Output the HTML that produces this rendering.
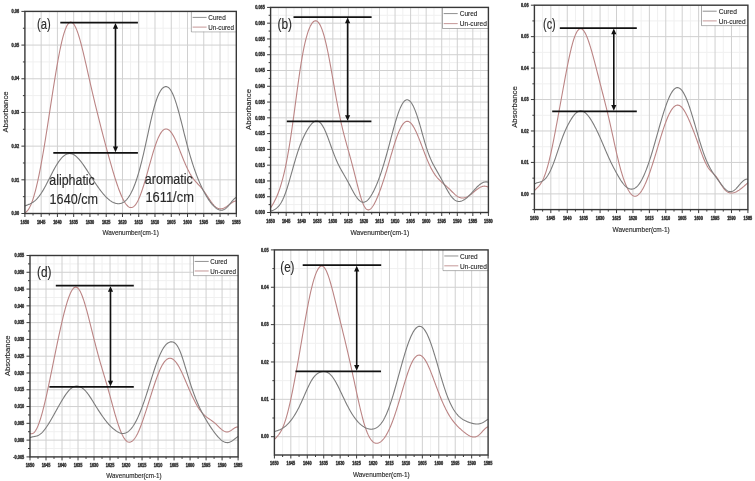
<!DOCTYPE html>
<html><head><meta charset="utf-8"><style>
html,body{margin:0;padding:0;background:#fff;}
svg{display:block;filter:blur(0.35px);}
text{font-family:"Liberation Sans",sans-serif;}
.tl{font-size:5px;font-weight:bold;fill:#222222;stroke:#333;stroke-width:0.4px;}
.lg{font-size:7.3px;fill:#222;stroke:#333;stroke-width:0.12px;}
.at{font-size:7.4px;fill:#222;stroke:#333;stroke-width:0.15px;}
.pl{font-size:15px;fill:#2a2a2a;stroke:#2a2a2a;stroke-width:0.15px;}
.an{font-size:14px;fill:#2a2a2a;stroke:#2a2a2a;stroke-width:0.15px;}
</style></head><body>
<svg width="755" height="481" viewBox="0 0 755 481">
<rect width="755" height="481" fill="#fff"/>
<path d="M33.03 11.4V213.5M49.29 11.4V213.5M65.55 11.4V213.5M81.82 11.4V213.5M98.08 11.4V213.5M114.34 11.4V213.5M130.6 11.4V213.5M146.86 11.4V213.5M163.12 11.4V213.5M179.38 11.4V213.5M195.65 11.4V213.5M211.91 11.4V213.5M228.17 11.4V213.5M24.9 196.66H236.3M24.9 162.97H236.3M24.9 129.29H236.3M24.9 95.61H236.3M24.9 61.93H236.3M24.9 28.24H236.3" stroke="#f0f0f0" stroke-width="1" fill="none"/>
<path d="M41.16 11.4V213.5M57.42 11.4V213.5M73.68 11.4V213.5M89.95 11.4V213.5M106.21 11.4V213.5M122.47 11.4V213.5M138.73 11.4V213.5M154.99 11.4V213.5M171.25 11.4V213.5M187.52 11.4V213.5M203.78 11.4V213.5M220.04 11.4V213.5M24.9 179.82H236.3M24.9 146.13H236.3M24.9 112.45H236.3M24.9 78.77H236.3M24.9 45.08H236.3" stroke="#d0d0d0" stroke-width="1" fill="none"/>
<path d="M24.9 213.5v3.5M33.03 213.5v2M41.16 213.5v3.5M49.29 213.5v2M57.42 213.5v3.5M65.55 213.5v2M73.68 213.5v3.5M81.82 213.5v2M89.95 213.5v3.5M98.08 213.5v2M106.21 213.5v3.5M114.34 213.5v2M122.47 213.5v3.5M130.6 213.5v2M138.73 213.5v3.5M146.86 213.5v2M154.99 213.5v3.5M163.12 213.5v2M171.25 213.5v3.5M179.38 213.5v2M187.52 213.5v3.5M195.65 213.5v2M203.78 213.5v3.5M211.91 213.5v2M220.04 213.5v3.5M228.17 213.5v2M236.3 213.5v3.5M24.9 213.5h-3.5M24.9 196.66h-2M24.9 179.82h-3.5M24.9 162.97h-2M24.9 146.13h-3.5M24.9 129.29h-2M24.9 112.45h-3.5M24.9 95.61h-2M24.9 78.77h-3.5M24.9 61.93h-2M24.9 45.08h-3.5M24.9 28.24h-2M24.9 11.4h-3.5" stroke="#3a3a3a" stroke-width="1" fill="none"/>
<text x="24.9" y="223.8" textLength="8.56" lengthAdjust="spacingAndGlyphs" class="tl" text-anchor="middle">1650</text>
<text x="41.16" y="223.8" textLength="8.56" lengthAdjust="spacingAndGlyphs" class="tl" text-anchor="middle">1645</text>
<text x="57.42" y="223.8" textLength="8.56" lengthAdjust="spacingAndGlyphs" class="tl" text-anchor="middle">1640</text>
<text x="73.68" y="223.8" textLength="8.56" lengthAdjust="spacingAndGlyphs" class="tl" text-anchor="middle">1635</text>
<text x="89.95" y="223.8" textLength="8.56" lengthAdjust="spacingAndGlyphs" class="tl" text-anchor="middle">1630</text>
<text x="106.21" y="223.8" textLength="8.56" lengthAdjust="spacingAndGlyphs" class="tl" text-anchor="middle">1625</text>
<text x="122.47" y="223.8" textLength="8.56" lengthAdjust="spacingAndGlyphs" class="tl" text-anchor="middle">1620</text>
<text x="138.73" y="223.8" textLength="8.56" lengthAdjust="spacingAndGlyphs" class="tl" text-anchor="middle">1615</text>
<text x="154.99" y="223.8" textLength="8.56" lengthAdjust="spacingAndGlyphs" class="tl" text-anchor="middle">1610</text>
<text x="171.25" y="223.8" textLength="8.56" lengthAdjust="spacingAndGlyphs" class="tl" text-anchor="middle">1605</text>
<text x="187.52" y="223.8" textLength="8.56" lengthAdjust="spacingAndGlyphs" class="tl" text-anchor="middle">1600</text>
<text x="203.78" y="223.8" textLength="8.56" lengthAdjust="spacingAndGlyphs" class="tl" text-anchor="middle">1595</text>
<text x="220.04" y="223.8" textLength="8.56" lengthAdjust="spacingAndGlyphs" class="tl" text-anchor="middle">1590</text>
<text x="236.3" y="223.8" textLength="8.56" lengthAdjust="spacingAndGlyphs" class="tl" text-anchor="middle">1585</text>
<text x="19.2" y="215.2" textLength="7.59" lengthAdjust="spacingAndGlyphs" class="tl" text-anchor="end">0.00</text>
<text x="19.2" y="181.52" textLength="7.59" lengthAdjust="spacingAndGlyphs" class="tl" text-anchor="end">0.01</text>
<text x="19.2" y="147.83" textLength="7.59" lengthAdjust="spacingAndGlyphs" class="tl" text-anchor="end">0.02</text>
<text x="19.2" y="114.15" textLength="7.59" lengthAdjust="spacingAndGlyphs" class="tl" text-anchor="end">0.03</text>
<text x="19.2" y="80.47" textLength="7.59" lengthAdjust="spacingAndGlyphs" class="tl" text-anchor="end">0.04</text>
<text x="19.2" y="46.78" textLength="7.59" lengthAdjust="spacingAndGlyphs" class="tl" text-anchor="end">0.05</text>
<text x="19.2" y="13.1" textLength="7.59" lengthAdjust="spacingAndGlyphs" class="tl" text-anchor="end">0.06</text>
<path d="M24.9 212.7 25.4 212.43 25.9 212.1 26.4 211.71 26.9 211.26 27.4 210.73 27.9 210.12 28.4 209.43 28.9 208.65 29.4 207.79 29.9 206.85 30.4 205.82 30.9 204.7 31.4 203.49 31.9 202.2 32.4 200.82 32.9 199.36 33.4 197.81 33.9 196.18 34.4 194.47 34.9 192.68 35.4 190.8 35.9 188.85 36.4 186.82 36.9 184.72 37.4 182.54 37.9 180.29 38.4 177.98 38.9 175.59 39.4 173.14 39.9 170.62 40.4 168.04 40.9 165.4 41.4 162.7 41.9 159.94 42.4 157.14 42.9 154.28 43.4 151.37 43.9 148.41 44.4 145.41 44.9 142.37 45.4 139.29 45.9 136.17 46.4 133.02 46.9 129.85 47.4 126.64 47.9 123.42 48.4 120.18 48.9 116.93 49.4 113.67 49.9 110.41 50.4 107.14 50.9 103.88 51.4 100.63 51.9 97.39 52.4 94.16 52.9 90.95 53.4 87.76 53.9 84.6 54.4 81.47 54.9 78.38 55.4 75.32 55.9 72.3 56.4 69.33 56.9 66.42 57.4 63.55 57.9 60.75 58.4 58.02 58.9 55.36 59.4 52.77 59.9 50.26 60.4 47.84 60.9 45.52 61.4 43.28 61.9 41.15 62.4 39.11 62.9 37.18 63.4 35.36 63.9 33.65 64.4 32.05 64.9 30.57 65.4 29.2 65.9 27.95 66.4 26.82 66.9 25.81 67.4 24.93 67.9 24.16 68.4 23.51 68.9 22.99 69.4 22.59 69.9 22.3 70.4 22.14 70.9 22.1 71.4 22.18 71.9 22.37 72.4 22.69 72.9 23.11 73.4 23.65 73.9 24.3 74.4 25.06 74.9 25.93 75.4 26.89 75.9 27.96 76.4 29.12 76.9 30.38 77.4 31.72 77.9 33.15 78.4 34.65 78.9 36.24 79.4 37.89 79.9 39.62 80.4 41.4 80.9 43.25 81.4 45.15 81.9 47.1 82.4 49.09 82.9 51.13 83.4 53.2 83.9 55.3 84.4 57.44 84.9 59.59 85.4 61.77 85.9 63.96 86.4 66.17 86.9 68.38 87.4 70.6 87.9 72.82 88.4 75.04 88.9 77.25 89.4 79.46 89.9 81.66 90.4 83.85 90.9 86.03 91.4 88.2 91.9 90.35 92.4 92.5 92.9 94.62 93.4 96.74 93.9 98.84 94.4 100.93 94.9 103.01 95.4 105.07 95.9 107.12 96.4 109.17 96.9 111.2 97.4 113.22 97.9 115.23 98.4 117.24 98.9 119.23 99.4 121.22 99.9 123.19 100.4 125.16 100.9 127.12 101.4 129.07 101.9 131.01 102.4 132.94 102.9 134.86 103.4 136.77 103.9 138.67 104.4 140.56 104.9 142.44 105.4 144.31 105.9 146.17 106.4 148.02 106.9 149.86 107.4 151.69 107.9 153.51 108.4 155.33 108.9 157.13 109.4 158.92 109.9 160.7 110.4 162.46 110.9 164.22 111.4 165.96 111.9 167.68 112.4 169.39 112.9 171.08 113.4 172.75 113.9 174.39 114.4 176.02 114.9 177.63 115.4 179.21 115.9 180.76 116.4 182.28 116.9 183.78 117.4 185.24 117.9 186.68 118.4 188.08 118.9 189.44 119.4 190.77 119.9 192.06 120.4 193.31 120.9 194.52 121.4 195.69 121.9 196.81 122.4 197.89 122.9 198.92 123.4 199.9 123.9 200.83 124.4 201.71 124.9 202.53 125.4 203.3 125.9 204.01 126.4 204.66 126.9 205.24 127.4 205.77 127.9 206.23 128.4 206.62 128.9 206.95 129.4 207.21 129.9 207.4 130.4 207.52 130.9 207.57 131.4 207.55 131.9 207.46 132.4 207.3 132.9 207.06 133.4 206.75 133.9 206.37 134.4 205.92 134.9 205.39 135.4 204.79 135.9 204.11 136.4 203.37 136.9 202.55 137.4 201.67 137.9 200.71 138.4 199.69 138.9 198.6 139.4 197.44 139.9 196.23 140.4 194.96 140.9 193.62 141.4 192.24 141.9 190.8 142.4 189.32 142.9 187.79 143.4 186.22 143.9 184.62 144.4 182.97 144.9 181.3 145.4 179.6 145.9 177.87 146.4 176.13 146.9 174.37 147.4 172.59 147.9 170.8 148.4 169.01 148.9 167.21 149.4 165.42 149.9 163.63 150.4 161.84 150.9 160.07 151.4 158.32 151.9 156.58 152.4 154.86 152.9 153.18 153.4 151.52 153.9 149.9 154.4 148.32 154.9 146.78 155.4 145.29 155.9 143.85 156.4 142.47 156.9 141.14 157.4 139.87 157.9 138.66 158.4 137.52 158.9 136.44 159.4 135.44 159.9 134.5 160.4 133.64 160.9 132.85 161.4 132.13 161.9 131.49 162.4 130.92 162.9 130.42 163.4 129.99 163.9 129.64 164.4 129.36 164.9 129.16 165.4 129.02 165.9 128.96 166.4 128.96 166.9 129.04 167.4 129.18 167.9 129.4 168.4 129.68 168.9 130.02 169.4 130.43 169.9 130.9 170.4 131.44 170.9 132.04 171.4 132.69 171.9 133.41 172.4 134.18 172.9 135.01 173.4 135.88 173.9 136.81 174.4 137.79 174.9 138.8 175.4 139.86 175.9 140.96 176.4 142.09 176.9 143.25 177.4 144.44 177.9 145.65 178.4 146.88 178.9 148.13 179.4 149.39 179.9 150.66 180.4 151.93 180.9 153.21 181.4 154.48 181.9 155.75 182.4 157.01 182.9 158.25 183.4 159.49 183.9 160.7 184.4 161.9 184.9 163.08 185.4 164.23 185.9 165.36 186.4 166.47 186.9 167.55 187.4 168.6 187.9 169.62 188.4 170.62 188.9 171.58 189.4 172.51 189.9 173.42 190.4 174.28 190.9 175.12 191.4 175.93 191.9 176.7 192.4 177.44 192.9 178.15 193.4 178.84 193.9 179.49 194.4 180.12 194.9 180.73 195.4 181.31 195.9 181.88 196.4 182.43 196.9 182.97 197.4 183.5 197.9 184.02 198.4 184.55 198.9 185.08 199.4 185.61 199.9 186.15 200.4 186.71 200.9 187.28 201.4 187.87 201.9 188.47 202.4 189.1 202.9 189.74 203.4 190.41 203.9 191.09 204.4 191.8 204.9 192.52 205.4 193.26 205.9 194.01 206.4 194.77 206.9 195.53 207.4 196.3 207.9 197.08 208.4 197.85 208.9 198.61 209.4 199.37 209.9 200.11 210.4 200.84 210.9 201.55 211.4 202.24 211.9 202.9 212.4 203.54 212.9 204.15 213.4 204.73 213.9 205.27 214.4 205.78 214.9 206.25 215.4 206.68 215.9 207.08 216.4 207.43 216.9 207.75 217.4 208.03 217.9 208.26 218.4 208.46 218.9 208.62 219.4 208.73 219.9 208.81 220.4 208.85 220.9 208.85 221.4 208.81 221.9 208.73 222.4 208.62 222.9 208.48 223.4 208.3 223.9 208.09 224.4 207.86 224.9 207.6 225.4 207.31 225.9 207.01 226.4 206.68 226.9 206.34 227.4 205.98 227.9 205.62 228.4 205.25 228.9 204.87 229.4 204.49 229.9 204.11 230.4 203.74 230.9 203.38 231.4 203.03 231.9 202.69 232.4 202.37 232.9 202.07 233.4 201.8 233.9 201.55 234.4 201.33 234.9 201.15 235.4 201 235.9 200.88 236.3 200.82" stroke="#bb8484" stroke-width="1.1" fill="none"/>
<path d="M24.9 206.02 25.4 205.8 25.9 205.59 26.4 205.38 26.9 205.18 27.4 204.98 27.9 204.78 28.4 204.58 28.9 204.37 29.4 204.15 29.9 203.93 30.4 203.69 30.9 203.44 31.4 203.18 31.9 202.89 32.4 202.59 32.9 202.27 33.4 201.93 33.9 201.56 34.4 201.18 34.9 200.76 35.4 200.32 35.9 199.86 36.4 199.36 36.9 198.84 37.4 198.3 37.9 197.73 38.4 197.13 38.9 196.5 39.4 195.85 39.9 195.17 40.4 194.47 40.9 193.74 41.4 192.99 41.9 192.21 42.4 191.41 42.9 190.59 43.4 189.74 43.9 188.88 44.4 187.99 44.9 187.09 45.4 186.17 45.9 185.23 46.4 184.28 46.9 183.32 47.4 182.34 47.9 181.36 48.4 180.37 48.9 179.38 49.4 178.38 49.9 177.38 50.4 176.39 50.9 175.39 51.4 174.41 51.9 173.43 52.4 172.46 52.9 171.5 53.4 170.55 53.9 169.62 54.4 168.71 54.9 167.81 55.4 166.94 55.9 166.08 56.4 165.24 56.9 164.43 57.4 163.64 57.9 162.87 58.4 162.13 58.9 161.41 59.4 160.72 59.9 160.06 60.4 159.43 60.9 158.82 61.4 158.25 61.9 157.7 62.4 157.19 62.9 156.71 63.4 156.26 63.9 155.84 64.4 155.46 64.9 155.11 65.4 154.8 65.9 154.52 66.4 154.27 66.9 154.06 67.4 153.89 67.9 153.75 68.4 153.65 68.9 153.58 69.4 153.54 69.9 153.54 70.4 153.58 70.9 153.65 71.4 153.76 71.9 153.9 72.4 154.07 72.9 154.28 73.4 154.51 73.9 154.79 74.4 155.09 74.9 155.42 75.4 155.79 75.9 156.18 76.4 156.6 76.9 157.05 77.4 157.53 77.9 158.03 78.4 158.56 78.9 159.11 79.4 159.68 79.9 160.28 80.4 160.89 80.9 161.53 81.4 162.18 81.9 162.84 82.4 163.52 82.9 164.22 83.4 164.93 83.9 165.65 84.4 166.38 84.9 167.11 85.4 167.86 85.9 168.61 86.4 169.37 86.9 170.14 87.4 170.91 87.9 171.68 88.4 172.46 88.9 173.23 89.4 174.01 89.9 174.79 90.4 175.57 90.9 176.35 91.4 177.12 91.9 177.9 92.4 178.67 92.9 179.45 93.4 180.21 93.9 180.98 94.4 181.74 94.9 182.5 95.4 183.25 95.9 183.99 96.4 184.73 96.9 185.46 97.4 186.18 97.9 186.9 98.4 187.6 98.9 188.3 99.4 188.99 99.9 189.66 100.4 190.33 100.9 190.98 101.4 191.62 101.9 192.25 102.4 192.87 102.9 193.48 103.4 194.07 103.9 194.64 104.4 195.21 104.9 195.75 105.4 196.28 105.9 196.8 106.4 197.3 106.9 197.78 107.4 198.25 107.9 198.7 108.4 199.13 108.9 199.55 109.4 199.95 109.9 200.33 110.4 200.69 110.9 201.03 111.4 201.35 111.9 201.66 112.4 201.95 112.9 202.21 113.4 202.46 113.9 202.68 114.4 202.89 114.9 203.07 115.4 203.23 115.9 203.37 116.4 203.48 116.9 203.57 117.4 203.64 117.9 203.68 118.4 203.7 118.9 203.69 119.4 203.65 119.9 203.58 120.4 203.49 120.9 203.37 121.4 203.22 121.9 203.03 122.4 202.81 122.9 202.56 123.4 202.28 123.9 201.96 124.4 201.61 124.9 201.22 125.4 200.79 125.9 200.32 126.4 199.81 126.9 199.27 127.4 198.68 127.9 198.04 128.4 197.37 128.9 196.65 129.4 195.88 129.9 195.07 130.4 194.21 130.9 193.3 131.4 192.35 131.9 191.34 132.4 190.28 132.9 189.18 133.4 188.02 133.9 186.81 134.4 185.55 134.9 184.23 135.4 182.87 135.9 181.45 136.4 179.98 136.9 178.46 137.4 176.88 137.9 175.26 138.4 173.58 138.9 171.86 139.4 170.08 139.9 168.26 140.4 166.39 140.9 164.48 141.4 162.52 141.9 160.52 142.4 158.48 142.9 156.4 143.4 154.28 143.9 152.13 144.4 149.95 144.9 147.74 145.4 145.5 145.9 143.24 146.4 140.96 146.9 138.67 147.4 136.36 147.9 134.06 148.4 131.75 148.9 129.46 149.4 127.17 149.9 124.91 150.4 122.67 150.9 120.46 151.4 118.3 151.9 116.18 152.4 114.11 152.9 112.1 153.4 110.16 153.9 108.28 154.4 106.48 154.9 104.75 155.4 103.1 155.9 101.53 156.4 100.04 156.9 98.63 157.4 97.31 157.9 96.07 158.4 94.91 158.9 93.84 159.4 92.84 159.9 91.92 160.4 91.07 160.9 90.3 161.4 89.61 161.9 88.98 162.4 88.43 162.9 87.95 163.4 87.54 163.9 87.2 164.4 86.94 164.9 86.74 165.4 86.62 165.9 86.57 166.4 86.6 166.9 86.7 167.4 86.88 167.9 87.14 168.4 87.48 168.9 87.9 169.4 88.41 169.9 88.99 170.4 89.66 170.9 90.42 171.4 91.25 171.9 92.17 172.4 93.18 172.9 94.26 173.4 95.42 173.9 96.66 174.4 97.97 174.9 99.35 175.4 100.81 175.9 102.33 176.4 103.91 176.9 105.54 177.4 107.24 177.9 108.98 178.4 110.77 178.9 112.6 179.4 114.47 179.9 116.37 180.4 118.3 180.9 120.26 181.4 122.23 181.9 124.23 182.4 126.23 182.9 128.24 183.4 130.25 183.9 132.26 184.4 134.26 184.9 136.25 185.4 138.23 185.9 140.18 186.4 142.12 186.9 144.03 187.4 145.91 187.9 147.77 188.4 149.59 188.9 151.39 189.4 153.15 189.9 154.88 190.4 156.58 190.9 158.25 191.4 159.89 191.9 161.49 192.4 163.07 192.9 164.61 193.4 166.12 193.9 167.6 194.4 169.06 194.9 170.48 195.4 171.88 195.9 173.25 196.4 174.6 196.9 175.91 197.4 177.2 197.9 178.46 198.4 179.7 198.9 180.91 199.4 182.1 199.9 183.26 200.4 184.39 200.9 185.5 201.4 186.58 201.9 187.64 202.4 188.68 202.9 189.69 203.4 190.68 203.9 191.65 204.4 192.59 204.9 193.51 205.4 194.41 205.9 195.29 206.4 196.14 206.9 196.98 207.4 197.79 207.9 198.58 208.4 199.34 208.9 200.09 209.4 200.81 209.9 201.5 210.4 202.18 210.9 202.83 211.4 203.46 211.9 204.06 212.4 204.64 212.9 205.19 213.4 205.72 213.9 206.23 214.4 206.7 214.9 207.16 215.4 207.58 215.9 207.98 216.4 208.35 216.9 208.69 217.4 209 217.9 209.28 218.4 209.52 218.9 209.74 219.4 209.91 219.9 210.05 220.4 210.15 220.9 210.21 221.4 210.22 221.9 210.19 222.4 210.12 222.9 210 223.4 209.84 223.9 209.63 224.4 209.38 224.9 209.08 225.4 208.73 225.9 208.34 226.4 207.91 226.9 207.45 227.4 206.94 227.9 206.4 228.4 205.83 228.9 205.24 229.4 204.63 229.9 204 230.4 203.36 230.9 202.73 231.4 202.09 231.9 201.46 232.4 200.85 232.9 200.26 233.4 199.71 233.9 199.19 234.4 198.71 234.9 198.28 235.4 197.91 235.9 197.6 236.3 197.4" stroke="#7c7c7c" stroke-width="1.1" fill="none"/>
<path d="M191.4 11.4V31.8H236.3" stroke="#8a8a8a" stroke-width="0.8" fill="none"/>
<rect x="191.8" y="11.9" width="44" height="19.5" fill="#fff"/>
<path d="M192.6 17.4h14" stroke="#7c7c7c" stroke-width="0.85" />
<path d="M192.6 27.1h14" stroke="#bb8484" stroke-width="0.85" />
<text x="208.3" y="20.1" class="lg" textLength="17.4" lengthAdjust="spacingAndGlyphs">Cured</text>
<text x="208.3" y="29.8" class="lg" textLength="25.7" lengthAdjust="spacingAndGlyphs">Un-cured</text>
<rect x="24.9" y="11.4" width="211.4" height="202.1" fill="none" stroke="#383838" stroke-width="1.4"/>
<text transform="translate(5.8 112) rotate(-90)" x="0" y="2.6" text-anchor="middle" class="at" textLength="41" lengthAdjust="spacingAndGlyphs">Absorbance</text>
<text x="130.6" y="235.4" text-anchor="middle" class="at" textLength="56.4" lengthAdjust="spacingAndGlyphs">Wavenumber(cm-1)</text>
<path d="M60.3 22.5H137.9M53.3 152.8H137.9" stroke="#111" stroke-width="1.75"/>
<path d="M115.5 27.5V147.8" stroke="#111" stroke-width="1.6"/>
<path d="M115.5 23.1l-2.6 5.6h5.2z M115.5 152.2l-2.6 -5.6h5.2z" fill="#111"/>
<text x="37" y="28.5" class="pl" textLength="13.75" lengthAdjust="spacingAndGlyphs">(a)</text>
<path d="M278.38 7.4V212.5M293.94 7.4V212.5M309.49 7.4V212.5M325.05 7.4V212.5M340.61 7.4V212.5M356.16 7.4V212.5M371.72 7.4V212.5M387.28 7.4V212.5M402.84 7.4V212.5M418.39 7.4V212.5M433.95 7.4V212.5M449.51 7.4V212.5M465.06 7.4V212.5M480.62 7.4V212.5M270.6 204.61H488.4M270.6 188.83H488.4M270.6 173.06H488.4M270.6 157.28H488.4M270.6 141.5H488.4M270.6 125.73H488.4M270.6 109.95H488.4M270.6 94.17H488.4M270.6 78.4H488.4M270.6 62.62H488.4M270.6 46.84H488.4M270.6 31.07H488.4M270.6 15.29H488.4" stroke="#f0f0f0" stroke-width="1" fill="none"/>
<path d="M286.16 7.4V212.5M301.71 7.4V212.5M317.27 7.4V212.5M332.83 7.4V212.5M348.39 7.4V212.5M363.94 7.4V212.5M379.5 7.4V212.5M395.06 7.4V212.5M410.61 7.4V212.5M426.17 7.4V212.5M441.73 7.4V212.5M457.29 7.4V212.5M472.84 7.4V212.5M270.6 196.72H488.4M270.6 180.95H488.4M270.6 165.17H488.4M270.6 149.39H488.4M270.6 133.62H488.4M270.6 117.84H488.4M270.6 102.06H488.4M270.6 86.28H488.4M270.6 70.51H488.4M270.6 54.73H488.4M270.6 38.95H488.4M270.6 23.18H488.4" stroke="#d0d0d0" stroke-width="1" fill="none"/>
<path d="M270.6 212.5v3.5M278.38 212.5v2M286.16 212.5v3.5M293.94 212.5v2M301.71 212.5v3.5M309.49 212.5v2M317.27 212.5v3.5M325.05 212.5v2M332.83 212.5v3.5M340.61 212.5v2M348.39 212.5v3.5M356.16 212.5v2M363.94 212.5v3.5M371.72 212.5v2M379.5 212.5v3.5M387.28 212.5v2M395.06 212.5v3.5M402.84 212.5v2M410.61 212.5v3.5M418.39 212.5v2M426.17 212.5v3.5M433.95 212.5v2M441.73 212.5v3.5M449.51 212.5v2M457.29 212.5v3.5M465.06 212.5v2M472.84 212.5v3.5M480.62 212.5v2M488.4 212.5v3.5M270.6 212.5h-3.5M270.6 204.61h-2M270.6 196.72h-3.5M270.6 188.83h-2M270.6 180.95h-3.5M270.6 173.06h-2M270.6 165.17h-3.5M270.6 157.28h-2M270.6 149.39h-3.5M270.6 141.5h-2M270.6 133.62h-3.5M270.6 125.73h-2M270.6 117.84h-3.5M270.6 109.95h-2M270.6 102.06h-3.5M270.6 94.17h-2M270.6 86.28h-3.5M270.6 78.4h-2M270.6 70.51h-3.5M270.6 62.62h-2M270.6 54.73h-3.5M270.6 46.84h-2M270.6 38.95h-3.5M270.6 31.07h-2M270.6 23.18h-3.5M270.6 15.29h-2M270.6 7.4h-3.5" stroke="#3a3a3a" stroke-width="1" fill="none"/>
<text x="270.6" y="222.8" textLength="8.56" lengthAdjust="spacingAndGlyphs" class="tl" text-anchor="middle">1650</text>
<text x="286.16" y="222.8" textLength="8.56" lengthAdjust="spacingAndGlyphs" class="tl" text-anchor="middle">1645</text>
<text x="301.71" y="222.8" textLength="8.56" lengthAdjust="spacingAndGlyphs" class="tl" text-anchor="middle">1640</text>
<text x="317.27" y="222.8" textLength="8.56" lengthAdjust="spacingAndGlyphs" class="tl" text-anchor="middle">1635</text>
<text x="332.83" y="222.8" textLength="8.56" lengthAdjust="spacingAndGlyphs" class="tl" text-anchor="middle">1630</text>
<text x="348.39" y="222.8" textLength="8.56" lengthAdjust="spacingAndGlyphs" class="tl" text-anchor="middle">1625</text>
<text x="363.94" y="222.8" textLength="8.56" lengthAdjust="spacingAndGlyphs" class="tl" text-anchor="middle">1620</text>
<text x="379.5" y="222.8" textLength="8.56" lengthAdjust="spacingAndGlyphs" class="tl" text-anchor="middle">1615</text>
<text x="395.06" y="222.8" textLength="8.56" lengthAdjust="spacingAndGlyphs" class="tl" text-anchor="middle">1610</text>
<text x="410.61" y="222.8" textLength="8.56" lengthAdjust="spacingAndGlyphs" class="tl" text-anchor="middle">1605</text>
<text x="426.17" y="222.8" textLength="8.56" lengthAdjust="spacingAndGlyphs" class="tl" text-anchor="middle">1600</text>
<text x="441.73" y="222.8" textLength="8.56" lengthAdjust="spacingAndGlyphs" class="tl" text-anchor="middle">1595</text>
<text x="457.29" y="222.8" textLength="8.56" lengthAdjust="spacingAndGlyphs" class="tl" text-anchor="middle">1590</text>
<text x="472.84" y="222.8" textLength="8.56" lengthAdjust="spacingAndGlyphs" class="tl" text-anchor="middle">1585</text>
<text x="488.4" y="222.8" textLength="8.56" lengthAdjust="spacingAndGlyphs" class="tl" text-anchor="middle">1580</text>
<text x="264.9" y="214.2" textLength="9.76" lengthAdjust="spacingAndGlyphs" class="tl" text-anchor="end">0.000</text>
<text x="264.9" y="198.42" textLength="9.76" lengthAdjust="spacingAndGlyphs" class="tl" text-anchor="end">0.005</text>
<text x="264.9" y="182.65" textLength="9.76" lengthAdjust="spacingAndGlyphs" class="tl" text-anchor="end">0.010</text>
<text x="264.9" y="166.87" textLength="9.76" lengthAdjust="spacingAndGlyphs" class="tl" text-anchor="end">0.015</text>
<text x="264.9" y="151.09" textLength="9.76" lengthAdjust="spacingAndGlyphs" class="tl" text-anchor="end">0.020</text>
<text x="264.9" y="135.32" textLength="9.76" lengthAdjust="spacingAndGlyphs" class="tl" text-anchor="end">0.025</text>
<text x="264.9" y="119.54" textLength="9.76" lengthAdjust="spacingAndGlyphs" class="tl" text-anchor="end">0.030</text>
<text x="264.9" y="103.76" textLength="9.76" lengthAdjust="spacingAndGlyphs" class="tl" text-anchor="end">0.035</text>
<text x="264.9" y="87.98" textLength="9.76" lengthAdjust="spacingAndGlyphs" class="tl" text-anchor="end">0.040</text>
<text x="264.9" y="72.21" textLength="9.76" lengthAdjust="spacingAndGlyphs" class="tl" text-anchor="end">0.045</text>
<text x="264.9" y="56.43" textLength="9.76" lengthAdjust="spacingAndGlyphs" class="tl" text-anchor="end">0.050</text>
<text x="264.9" y="40.65" textLength="9.76" lengthAdjust="spacingAndGlyphs" class="tl" text-anchor="end">0.055</text>
<text x="264.9" y="24.88" textLength="9.76" lengthAdjust="spacingAndGlyphs" class="tl" text-anchor="end">0.060</text>
<text x="264.9" y="9.1" textLength="9.76" lengthAdjust="spacingAndGlyphs" class="tl" text-anchor="end">0.065</text>
<path d="M270.6 207.81 271.1 207.07 271.6 206.3 272.1 205.5 272.6 204.67 273.1 203.82 273.6 202.93 274.1 202.01 274.6 201.05 275.1 200.06 275.6 199.03 276.1 197.95 276.6 196.83 277.1 195.67 277.6 194.46 278.1 193.2 278.6 191.88 279.1 190.51 279.6 189.08 280.1 187.59 280.6 186.03 281.1 184.4 281.6 182.71 282.1 180.93 282.6 179.09 283.1 177.16 283.6 175.16 284.1 173.07 284.6 170.89 285.1 168.64 285.6 166.29 286.1 163.85 286.6 161.33 287.1 158.71 287.6 156 288.1 153.2 288.6 150.31 289.1 147.34 289.6 144.27 290.1 141.12 290.6 137.89 291.1 134.57 291.6 131.18 292.1 127.73 292.6 124.2 293.1 120.62 293.6 116.99 294.1 113.32 294.6 109.61 295.1 105.88 295.6 102.13 296.1 98.39 296.6 94.65 297.1 90.94 297.6 87.25 298.1 83.62 298.6 80.04 299.1 76.53 299.6 73.1 300.1 69.75 300.6 66.51 301.1 63.37 301.6 60.34 302.1 57.42 302.6 54.63 303.1 51.95 303.6 49.4 304.1 46.96 304.6 44.65 305.1 42.45 305.6 40.38 306.1 38.41 306.6 36.56 307.1 34.83 307.6 33.2 308.1 31.68 308.6 30.26 309.1 28.95 309.6 27.74 310.1 26.63 310.6 25.62 311.1 24.7 311.6 23.88 312.1 23.16 312.6 22.53 313.1 22 313.6 21.56 314.1 21.22 314.6 20.98 315.1 20.84 315.6 20.79 316.1 20.85 316.6 21 317.1 21.26 317.6 21.62 318.1 22.09 318.6 22.66 319.1 23.34 319.6 24.12 320.1 25.01 320.6 26.01 321.1 27.12 321.6 28.33 322.1 29.65 322.6 31.07 323.1 32.6 323.6 34.24 324.1 35.97 324.6 37.81 325.1 39.74 325.6 41.77 326.1 43.88 326.6 46.09 327.1 48.37 327.6 50.74 328.1 53.18 328.6 55.69 329.1 58.26 329.6 60.89 330.1 63.58 330.6 66.32 331.1 69.09 331.6 71.9 332.1 74.74 332.6 77.59 333.1 80.46 333.6 83.33 334.1 86.2 334.6 89.06 335.1 91.9 335.6 94.72 336.1 97.5 336.6 100.25 337.1 102.96 337.6 105.61 338.1 108.22 338.6 110.77 339.1 113.27 339.6 115.7 340.1 118.08 340.6 120.39 341.1 122.64 341.6 124.84 342.1 126.97 342.6 129.06 343.1 131.09 343.6 133.08 344.1 135.02 344.6 136.93 345.1 138.8 345.6 140.65 346.1 142.48 346.6 144.29 347.1 146.08 347.6 147.87 348.1 149.65 348.6 151.43 349.1 153.21 349.6 155 350.1 156.81 350.6 158.62 351.1 160.46 351.6 162.31 352.1 164.19 352.6 166.08 353.1 168 353.6 169.94 354.1 171.89 354.6 173.86 355.1 175.84 355.6 177.83 356.1 179.82 356.6 181.81 357.1 183.78 357.6 185.74 358.1 187.68 358.6 189.58 359.1 191.44 359.6 193.25 360.1 195 360.6 196.68 361.1 198.29 361.6 199.81 362.1 201.24 362.6 202.58 363.1 203.81 363.6 204.93 364.1 205.94 364.6 206.84 365.1 207.62 365.6 208.29 366.1 208.84 366.6 209.27 367.1 209.59 367.6 209.79 368.1 209.89 368.6 209.88 369.1 209.77 369.6 209.56 370.1 209.26 370.6 208.87 371.1 208.4 371.6 207.85 372.1 207.23 372.6 206.55 373.1 205.8 373.6 204.99 374.1 204.13 374.6 203.21 375.1 202.24 375.6 201.23 376.1 200.18 376.6 199.08 377.1 197.94 377.6 196.76 378.1 195.54 378.6 194.29 379.1 193 379.6 191.68 380.1 190.33 380.6 188.95 381.1 187.55 381.6 186.12 382.1 184.66 382.6 183.19 383.1 181.69 383.6 180.17 384.1 178.64 384.6 177.08 385.1 175.5 385.6 173.89 386.1 172.27 386.6 170.63 387.1 168.96 387.6 167.28 388.1 165.58 388.6 163.87 389.1 162.15 389.6 160.42 390.1 158.68 390.6 156.95 391.1 155.22 391.6 153.5 392.1 151.78 392.6 150.09 393.1 148.41 393.6 146.76 394.1 145.14 394.6 143.55 395.1 141.99 395.6 140.47 396.1 138.99 396.6 137.56 397.1 136.17 397.6 134.83 398.1 133.54 398.6 132.31 399.1 131.13 399.6 130.01 400.1 128.95 400.6 127.95 401.1 127.01 401.6 126.15 402.1 125.35 402.6 124.61 403.1 123.95 403.6 123.37 404.1 122.85 404.6 122.41 405.1 122.04 405.6 121.75 406.1 121.53 406.6 121.39 407.1 121.32 407.6 121.33 408.1 121.41 408.6 121.57 409.1 121.8 409.6 122.11 410.1 122.48 410.6 122.92 411.1 123.43 411.6 124.01 412.1 124.65 412.6 125.35 413.1 126.11 413.6 126.93 414.1 127.8 414.6 128.73 415.1 129.7 415.6 130.72 416.1 131.78 416.6 132.88 417.1 134.01 417.6 135.18 418.1 136.38 418.6 137.61 419.1 138.86 419.6 140.13 420.1 141.42 420.6 142.72 421.1 144.02 421.6 145.34 422.1 146.66 422.6 147.98 423.1 149.3 423.6 150.61 424.1 151.92 424.6 153.22 425.1 154.5 425.6 155.77 426.1 157.02 426.6 158.26 427.1 159.47 427.6 160.66 428.1 161.82 428.6 162.95 429.1 164.06 429.6 165.13 430.1 166.18 430.6 167.19 431.1 168.18 431.6 169.13 432.1 170.04 432.6 170.93 433.1 171.78 433.6 172.6 434.1 173.38 434.6 174.14 435.1 174.87 435.6 175.56 436.1 176.23 436.6 176.87 437.1 177.49 437.6 178.08 438.1 178.65 438.6 179.2 439.1 179.72 439.6 180.23 440.1 180.72 440.6 181.19 441.1 181.65 441.6 182.1 442.1 182.54 442.6 182.97 443.1 183.4 443.6 183.82 444.1 184.24 444.6 184.66 445.1 185.09 445.6 185.52 446.1 185.95 446.6 186.39 447.1 186.85 447.6 187.31 448.1 187.78 448.6 188.25 449.1 188.74 449.6 189.23 450.1 189.73 450.6 190.24 451.1 190.74 451.6 191.24 452.1 191.75 452.6 192.24 453.1 192.73 453.6 193.21 454.1 193.68 454.6 194.13 455.1 194.57 455.6 194.98 456.1 195.37 456.6 195.74 457.1 196.09 457.6 196.41 458.1 196.7 458.6 196.96 459.1 197.2 459.6 197.4 460.1 197.58 460.6 197.73 461.1 197.84 461.6 197.93 462.1 197.99 462.6 198.01 463.1 198 463.6 197.97 464.1 197.9 464.6 197.8 465.1 197.68 465.6 197.52 466.1 197.34 466.6 197.13 467.1 196.89 467.6 196.63 468.1 196.34 468.6 196.04 469.1 195.71 469.6 195.37 470.1 195.01 470.6 194.63 471.1 194.24 471.6 193.84 472.1 193.44 472.6 193.02 473.1 192.6 473.6 192.18 474.1 191.76 474.6 191.34 475.1 190.92 475.6 190.5 476.1 190.1 476.6 189.7 477.1 189.32 477.6 188.95 478.1 188.6 478.6 188.26 479.1 187.94 479.6 187.64 480.1 187.37 480.6 187.12 481.1 186.9 481.6 186.7 482.1 186.53 482.6 186.39 483.1 186.29 483.6 186.21 484.1 186.17 484.6 186.16 485.1 186.19 485.6 186.25 486.1 186.35 486.6 186.48 487.1 186.65 487.6 186.85 488.1 187.09 488.4 187.26" stroke="#bb8484" stroke-width="1.1" fill="none"/>
<path d="M270.6 211.1 271.1 210.96 271.6 210.81 272.1 210.64 272.6 210.45 273.1 210.25 273.6 210.02 274.1 209.77 274.6 209.5 275.1 209.2 275.6 208.88 276.1 208.52 276.6 208.13 277.1 207.7 277.6 207.23 278.1 206.73 278.6 206.18 279.1 205.58 279.6 204.93 280.1 204.23 280.6 203.48 281.1 202.67 281.6 201.8 282.1 200.88 282.6 199.89 283.1 198.83 283.6 197.72 284.1 196.54 284.6 195.3 285.1 194 285.6 192.64 286.1 191.22 286.6 189.74 287.1 188.22 287.6 186.64 288.1 185.02 288.6 183.37 289.1 181.67 289.6 179.95 290.1 178.21 290.6 176.44 291.1 174.66 291.6 172.87 292.1 171.08 292.6 169.29 293.1 167.5 293.6 165.73 294.1 163.98 294.6 162.24 295.1 160.53 295.6 158.84 296.1 157.19 296.6 155.57 297.1 153.99 297.6 152.44 298.1 150.93 298.6 149.46 299.1 148.04 299.6 146.65 300.1 145.3 300.6 144 301.1 142.73 301.6 141.5 302.1 140.31 302.6 139.16 303.1 138.05 303.6 136.96 304.1 135.91 304.6 134.9 305.1 133.92 305.6 132.96 306.1 132.04 306.6 131.15 307.1 130.28 307.6 129.45 308.1 128.64 308.6 127.87 309.1 127.12 309.6 126.41 310.1 125.74 310.6 125.09 311.1 124.49 311.6 123.92 312.1 123.4 312.6 122.92 313.1 122.49 313.6 122.11 314.1 121.77 314.6 121.5 315.1 121.28 315.6 121.12 316.1 121.02 316.6 120.98 317.1 121.01 317.6 121.11 318.1 121.28 318.6 121.51 319.1 121.81 319.6 122.18 320.1 122.63 320.6 123.14 321.1 123.72 321.6 124.37 322.1 125.08 322.6 125.87 323.1 126.71 323.6 127.62 324.1 128.59 324.6 129.61 325.1 130.69 325.6 131.82 326.1 133 326.6 134.23 327.1 135.49 327.6 136.79 328.1 138.11 328.6 139.47 329.1 140.84 329.6 142.23 330.1 143.64 330.6 145.04 331.1 146.45 331.6 147.85 332.1 149.24 332.6 150.62 333.1 151.98 333.6 153.31 334.1 154.63 334.6 155.91 335.1 157.16 335.6 158.38 336.1 159.57 336.6 160.72 337.1 161.84 337.6 162.93 338.1 163.98 338.6 165.01 339.1 166 339.6 166.97 340.1 167.91 340.6 168.84 341.1 169.74 341.6 170.63 342.1 171.5 342.6 172.37 343.1 173.23 343.6 174.09 344.1 174.94 344.6 175.8 345.1 176.67 345.6 177.54 346.1 178.42 346.6 179.31 347.1 180.21 347.6 181.12 348.1 182.05 348.6 182.98 349.1 183.92 349.6 184.87 350.1 185.83 350.6 186.79 351.1 187.75 351.6 188.7 352.1 189.65 352.6 190.59 353.1 191.51 353.6 192.42 354.1 193.3 354.6 194.16 355.1 194.99 355.6 195.79 356.1 196.55 356.6 197.28 357.1 197.96 357.6 198.6 358.1 199.19 358.6 199.73 359.1 200.23 359.6 200.67 360.1 201.05 360.6 201.38 361.1 201.66 361.6 201.88 362.1 202.04 362.6 202.15 363.1 202.2 363.6 202.19 364.1 202.12 364.6 202 365.1 201.82 365.6 201.59 366.1 201.3 366.6 200.96 367.1 200.56 367.6 200.12 368.1 199.62 368.6 199.07 369.1 198.47 369.6 197.82 370.1 197.13 370.6 196.4 371.1 195.62 371.6 194.8 372.1 193.95 372.6 193.05 373.1 192.12 373.6 191.15 374.1 190.15 374.6 189.11 375.1 188.04 375.6 186.93 376.1 185.79 376.6 184.62 377.1 183.42 377.6 182.18 378.1 180.9 378.6 179.6 379.1 178.26 379.6 176.88 380.1 175.48 380.6 174.04 381.1 172.57 381.6 171.07 382.1 169.54 382.6 167.98 383.1 166.39 383.6 164.77 384.1 163.12 384.6 161.45 385.1 159.74 385.6 158.01 386.1 156.26 386.6 154.48 387.1 152.67 387.6 150.85 388.1 149.01 388.6 147.15 389.1 145.28 389.6 143.4 390.1 141.51 390.6 139.62 391.1 137.72 391.6 135.84 392.1 133.96 392.6 132.09 393.1 130.25 393.6 128.42 394.1 126.62 394.6 124.85 395.1 123.11 395.6 121.41 396.1 119.75 396.6 118.14 397.1 116.57 397.6 115.06 398.1 113.6 398.6 112.2 399.1 110.86 399.6 109.59 400.1 108.38 400.6 107.24 401.1 106.17 401.6 105.17 402.1 104.26 402.6 103.42 403.1 102.67 403.6 102 404.1 101.41 404.6 100.91 405.1 100.5 405.6 100.18 406.1 99.95 406.6 99.81 407.1 99.76 407.6 99.8 408.1 99.93 408.6 100.15 409.1 100.45 409.6 100.84 410.1 101.32 410.6 101.88 411.1 102.52 411.6 103.24 412.1 104.03 412.6 104.91 413.1 105.86 413.6 106.88 414.1 107.97 414.6 109.13 415.1 110.35 415.6 111.64 416.1 112.99 416.6 114.4 417.1 115.87 417.6 117.39 418.1 118.96 418.6 120.58 419.1 122.24 419.6 123.94 420.1 125.68 420.6 127.43 421.1 129.21 421.6 131 422.1 132.79 422.6 134.58 423.1 136.36 423.6 138.13 424.1 139.88 424.6 141.6 425.1 143.29 425.6 144.94 426.1 146.56 426.6 148.13 427.1 149.65 427.6 151.13 428.1 152.56 428.6 153.93 429.1 155.25 429.6 156.52 430.1 157.73 430.6 158.9 431.1 160.02 431.6 161.11 432.1 162.15 432.6 163.16 433.1 164.14 433.6 165.1 434.1 166.04 434.6 166.96 435.1 167.86 435.6 168.75 436.1 169.63 436.6 170.51 437.1 171.38 437.6 172.26 438.1 173.13 438.6 174.01 439.1 174.9 439.6 175.79 440.1 176.7 440.6 177.61 441.1 178.53 441.6 179.46 442.1 180.4 442.6 181.34 443.1 182.29 443.6 183.24 444.1 184.19 444.6 185.14 445.1 186.08 445.6 187.02 446.1 187.95 446.6 188.87 447.1 189.77 447.6 190.66 448.1 191.52 448.6 192.36 449.1 193.18 449.6 193.97 450.1 194.73 450.6 195.45 451.1 196.14 451.6 196.8 452.1 197.41 452.6 197.98 453.1 198.51 453.6 199 454.1 199.45 454.6 199.85 455.1 200.2 455.6 200.51 456.1 200.78 456.6 201 457.1 201.18 457.6 201.31 458.1 201.4 458.6 201.45 459.1 201.47 459.6 201.44 460.1 201.38 460.6 201.29 461.1 201.16 461.6 201.01 462.1 200.82 462.6 200.6 463.1 200.36 463.6 200.1 464.1 199.8 464.6 199.49 465.1 199.15 465.6 198.79 466.1 198.4 466.6 198 467.1 197.57 467.6 197.13 468.1 196.67 468.6 196.19 469.1 195.69 469.6 195.18 470.1 194.66 470.6 194.12 471.1 193.58 471.6 193.02 472.1 192.46 472.6 191.9 473.1 191.33 473.6 190.77 474.1 190.2 474.6 189.65 475.1 189.09 475.6 188.55 476.1 188.01 476.6 187.49 477.1 186.98 477.6 186.49 478.1 186.01 478.6 185.56 479.1 185.12 479.6 184.7 480.1 184.31 480.6 183.94 481.1 183.59 481.6 183.27 482.1 182.98 482.6 182.73 483.1 182.5 483.6 182.3 484.1 182.14 484.6 182.02 485.1 181.93 485.6 181.89 486.1 181.87 486.6 181.9 487.1 181.97 487.6 182.08 488.1 182.22 488.4 182.32" stroke="#7c7c7c" stroke-width="1.1" fill="none"/>
<path d="M442.5 7.4V28.5H488.4" stroke="#8a8a8a" stroke-width="0.8" fill="none"/>
<rect x="442.9" y="7.9" width="45" height="20.2" fill="#fff"/>
<path d="M443.7 13.59h14" stroke="#7c7c7c" stroke-width="0.85" />
<path d="M443.7 23.61h14" stroke="#bb8484" stroke-width="0.85" />
<text x="459.75" y="16.29" class="lg" textLength="17.75" lengthAdjust="spacingAndGlyphs">Cured</text>
<text x="459.75" y="26.31" class="lg" textLength="27.1" lengthAdjust="spacingAndGlyphs">Un-cured</text>
<rect x="270.6" y="7.4" width="217.8" height="205.1" fill="none" stroke="#383838" stroke-width="1.4"/>
<text transform="translate(248.5 109.5) rotate(-90)" x="0" y="2.6" text-anchor="middle" class="at" textLength="40.8" lengthAdjust="spacingAndGlyphs">Absorbance</text>
<text x="379.85" y="234.6" text-anchor="middle" class="at" textLength="58.7" lengthAdjust="spacingAndGlyphs">Wavenumber(cm-1)</text>
<path d="M293.5 17H371.6M286.8 121.4H371.4" stroke="#111" stroke-width="1.75"/>
<path d="M347.6 22V116.4" stroke="#111" stroke-width="1.6"/>
<path d="M347.6 17.6l-2.6 5.6h5.2z M347.6 120.8l-2.6 -5.6h5.2z" fill="#111"/>
<text x="277.5" y="28.75" class="pl" textLength="14.5" lengthAdjust="spacingAndGlyphs">(b)</text>
<path d="M542.61 5.2V209.6M559.03 5.2V209.6M575.46 5.2V209.6M591.88 5.2V209.6M608.3 5.2V209.6M624.73 5.2V209.6M641.15 5.2V209.6M657.57 5.2V209.6M674 5.2V209.6M690.42 5.2V209.6M706.84 5.2V209.6M723.27 5.2V209.6M739.69 5.2V209.6M534.4 178.15H747.9M534.4 146.71H747.9M534.4 115.26H747.9M534.4 83.82H747.9M534.4 52.37H747.9M534.4 20.92H747.9" stroke="#f0f0f0" stroke-width="1" fill="none"/>
<path d="M550.82 5.2V209.6M567.25 5.2V209.6M583.67 5.2V209.6M600.09 5.2V209.6M616.52 5.2V209.6M632.94 5.2V209.6M649.36 5.2V209.6M665.78 5.2V209.6M682.21 5.2V209.6M698.63 5.2V209.6M715.05 5.2V209.6M731.48 5.2V209.6M534.4 193.88H747.9M534.4 162.43H747.9M534.4 130.98H747.9M534.4 99.54H747.9M534.4 68.09H747.9M534.4 36.65H747.9" stroke="#d0d0d0" stroke-width="1" fill="none"/>
<path d="M534.4 209.6v3.5M542.61 209.6v2M550.82 209.6v3.5M559.03 209.6v2M567.25 209.6v3.5M575.46 209.6v2M583.67 209.6v3.5M591.88 209.6v2M600.09 209.6v3.5M608.3 209.6v2M616.52 209.6v3.5M624.73 209.6v2M632.94 209.6v3.5M641.15 209.6v2M649.36 209.6v3.5M657.57 209.6v2M665.78 209.6v3.5M674 209.6v2M682.21 209.6v3.5M690.42 209.6v2M698.63 209.6v3.5M706.84 209.6v2M715.05 209.6v3.5M723.27 209.6v2M731.48 209.6v3.5M739.69 209.6v2M747.9 209.6v3.5M534.4 209.6h-2M534.4 193.88h-3.5M534.4 178.15h-2M534.4 162.43h-3.5M534.4 146.71h-2M534.4 130.98h-3.5M534.4 115.26h-2M534.4 99.54h-3.5M534.4 83.82h-2M534.4 68.09h-3.5M534.4 52.37h-2M534.4 36.65h-3.5M534.4 20.92h-2M534.4 5.2h-3.5" stroke="#3a3a3a" stroke-width="1" fill="none"/>
<text x="534.4" y="219.9" textLength="8.56" lengthAdjust="spacingAndGlyphs" class="tl" text-anchor="middle">1650</text>
<text x="550.82" y="219.9" textLength="8.56" lengthAdjust="spacingAndGlyphs" class="tl" text-anchor="middle">1645</text>
<text x="567.25" y="219.9" textLength="8.56" lengthAdjust="spacingAndGlyphs" class="tl" text-anchor="middle">1640</text>
<text x="583.67" y="219.9" textLength="8.56" lengthAdjust="spacingAndGlyphs" class="tl" text-anchor="middle">1635</text>
<text x="600.09" y="219.9" textLength="8.56" lengthAdjust="spacingAndGlyphs" class="tl" text-anchor="middle">1630</text>
<text x="616.52" y="219.9" textLength="8.56" lengthAdjust="spacingAndGlyphs" class="tl" text-anchor="middle">1625</text>
<text x="632.94" y="219.9" textLength="8.56" lengthAdjust="spacingAndGlyphs" class="tl" text-anchor="middle">1620</text>
<text x="649.36" y="219.9" textLength="8.56" lengthAdjust="spacingAndGlyphs" class="tl" text-anchor="middle">1615</text>
<text x="665.78" y="219.9" textLength="8.56" lengthAdjust="spacingAndGlyphs" class="tl" text-anchor="middle">1610</text>
<text x="682.21" y="219.9" textLength="8.56" lengthAdjust="spacingAndGlyphs" class="tl" text-anchor="middle">1605</text>
<text x="698.63" y="219.9" textLength="8.56" lengthAdjust="spacingAndGlyphs" class="tl" text-anchor="middle">1600</text>
<text x="715.05" y="219.9" textLength="8.56" lengthAdjust="spacingAndGlyphs" class="tl" text-anchor="middle">1595</text>
<text x="731.48" y="219.9" textLength="8.56" lengthAdjust="spacingAndGlyphs" class="tl" text-anchor="middle">1590</text>
<text x="747.9" y="219.9" textLength="8.56" lengthAdjust="spacingAndGlyphs" class="tl" text-anchor="middle">1585</text>
<text x="528.7" y="195.58" textLength="7.59" lengthAdjust="spacingAndGlyphs" class="tl" text-anchor="end">0.00</text>
<text x="528.7" y="164.13" textLength="7.59" lengthAdjust="spacingAndGlyphs" class="tl" text-anchor="end">0.01</text>
<text x="528.7" y="132.68" textLength="7.59" lengthAdjust="spacingAndGlyphs" class="tl" text-anchor="end">0.02</text>
<text x="528.7" y="101.24" textLength="7.59" lengthAdjust="spacingAndGlyphs" class="tl" text-anchor="end">0.03</text>
<text x="528.7" y="69.79" textLength="7.59" lengthAdjust="spacingAndGlyphs" class="tl" text-anchor="end">0.04</text>
<text x="528.7" y="38.35" textLength="7.59" lengthAdjust="spacingAndGlyphs" class="tl" text-anchor="end">0.05</text>
<text x="528.7" y="6.9" textLength="7.59" lengthAdjust="spacingAndGlyphs" class="tl" text-anchor="end">0.06</text>
<path d="M534.4 190.56 534.9 190.06 535.4 189.57 535.9 189.09 536.4 188.61 536.9 188.14 537.4 187.65 537.9 187.14 538.4 186.61 538.9 186.05 539.4 185.45 539.9 184.81 540.4 184.13 540.9 183.38 541.4 182.58 541.9 181.72 542.4 180.79 542.9 179.79 543.4 178.71 543.9 177.56 544.4 176.33 544.9 175.02 545.4 173.63 545.9 172.15 546.4 170.6 546.9 168.96 547.4 167.24 547.9 165.44 548.4 163.56 548.9 161.61 549.4 159.58 549.9 157.48 550.4 155.31 550.9 153.08 551.4 150.79 551.9 148.45 552.4 146.05 552.9 143.6 553.4 141.11 553.9 138.57 554.4 136.01 554.9 133.41 555.4 130.79 555.9 128.14 556.4 125.47 556.9 122.79 557.4 120.09 557.9 117.39 558.4 114.67 558.9 111.94 559.4 109.21 559.9 106.48 560.4 103.74 560.9 100.99 561.4 98.25 561.9 95.5 562.4 92.75 562.9 90.01 563.4 87.27 563.9 84.54 564.4 81.82 564.9 79.12 565.4 76.43 565.9 73.78 566.4 71.15 566.9 68.56 567.4 66.01 567.9 63.51 568.4 61.06 568.9 58.66 569.4 56.33 569.9 54.07 570.4 51.88 570.9 49.76 571.4 47.73 571.9 45.79 572.4 43.93 572.9 42.17 573.4 40.51 573.9 38.94 574.4 37.48 574.9 36.13 575.4 34.89 575.9 33.75 576.4 32.73 576.9 31.82 577.4 31.03 577.9 30.35 578.4 29.78 578.9 29.33 579.4 29 579.9 28.78 580.4 28.68 580.9 28.68 581.4 28.81 581.9 29.04 582.4 29.37 582.9 29.82 583.4 30.37 583.9 31.01 584.4 31.76 584.9 32.6 585.4 33.53 585.9 34.55 586.4 35.64 586.9 36.82 587.4 38.07 587.9 39.4 588.4 40.78 588.9 42.24 589.4 43.74 589.9 45.31 590.4 46.92 590.9 48.58 591.4 50.28 591.9 52.01 592.4 53.79 592.9 55.6 593.4 57.43 593.9 59.29 594.4 61.17 594.9 63.08 595.4 65 595.9 66.93 596.4 68.87 596.9 70.83 597.4 72.78 597.9 74.75 598.4 76.71 598.9 78.67 599.4 80.63 599.9 82.58 600.4 84.53 600.9 86.48 601.4 88.42 601.9 90.36 602.4 92.3 602.9 94.24 603.4 96.19 603.9 98.14 604.4 100.1 604.9 102.07 605.4 104.06 605.9 106.06 606.4 108.08 606.9 110.13 607.4 112.2 607.9 114.29 608.4 116.4 608.9 118.54 609.4 120.71 609.9 122.9 610.4 125.11 610.9 127.35 611.4 129.6 611.9 131.87 612.4 134.15 612.9 136.44 613.4 138.73 613.9 141.02 614.4 143.31 614.9 145.59 615.4 147.86 615.9 150.1 616.4 152.31 616.9 154.5 617.4 156.64 617.9 158.74 618.4 160.8 618.9 162.81 619.4 164.76 619.9 166.65 620.4 168.49 620.9 170.28 621.4 172 621.9 173.66 622.4 175.27 622.9 176.82 623.4 178.31 623.9 179.75 624.4 181.13 624.9 182.45 625.4 183.72 625.9 184.94 626.4 186.09 626.9 187.19 627.4 188.24 627.9 189.22 628.4 190.15 628.9 191.02 629.4 191.82 629.9 192.56 630.4 193.24 630.9 193.86 631.4 194.4 631.9 194.88 632.4 195.28 632.9 195.62 633.4 195.88 633.9 196.07 634.4 196.19 634.9 196.24 635.4 196.21 635.9 196.12 636.4 195.96 636.9 195.74 637.4 195.45 637.9 195.11 638.4 194.7 638.9 194.23 639.4 193.71 639.9 193.14 640.4 192.51 640.9 191.83 641.4 191.09 641.9 190.31 642.4 189.48 642.9 188.61 643.4 187.68 643.9 186.71 644.4 185.7 644.9 184.64 645.4 183.55 645.9 182.41 646.4 181.23 646.9 180.02 647.4 178.77 647.9 177.49 648.4 176.17 648.9 174.83 649.4 173.45 649.9 172.04 650.4 170.61 650.9 169.15 651.4 167.66 651.9 166.14 652.4 164.61 652.9 163.04 653.4 161.46 653.9 159.86 654.4 158.24 654.9 156.61 655.4 154.97 655.9 153.31 656.4 151.65 656.9 149.98 657.4 148.31 657.9 146.64 658.4 144.96 658.9 143.29 659.4 141.63 659.9 139.97 660.4 138.32 660.9 136.69 661.4 135.07 661.9 133.47 662.4 131.9 662.9 130.35 663.4 128.83 663.9 127.34 664.4 125.88 664.9 124.47 665.4 123.09 665.9 121.75 666.4 120.45 666.9 119.19 667.4 117.98 667.9 116.81 668.4 115.7 668.9 114.63 669.4 113.61 669.9 112.64 670.4 111.73 670.9 110.87 671.4 110.06 671.9 109.31 672.4 108.63 672.9 108 673.4 107.43 673.9 106.92 674.4 106.47 674.9 106.09 675.4 105.77 675.9 105.51 676.4 105.32 676.9 105.2 677.4 105.14 677.9 105.14 678.4 105.21 678.9 105.35 679.4 105.55 679.9 105.81 680.4 106.14 680.9 106.52 681.4 106.97 681.9 107.48 682.4 108.04 682.9 108.66 683.4 109.34 683.9 110.07 684.4 110.85 684.9 111.67 685.4 112.55 685.9 113.47 686.4 114.43 686.9 115.43 687.4 116.47 687.9 117.54 688.4 118.64 688.9 119.78 689.4 120.93 689.9 122.11 690.4 123.31 690.9 124.52 691.4 125.75 691.9 126.99 692.4 128.23 692.9 129.49 693.4 130.76 693.9 132.05 694.4 133.35 694.9 134.67 695.4 136.02 695.9 137.38 696.4 138.75 696.9 140.15 697.4 141.55 697.9 142.97 698.4 144.38 698.9 145.8 699.4 147.22 699.9 148.63 700.4 150.02 700.9 151.4 701.4 152.77 701.9 154.11 702.4 155.42 702.9 156.7 703.4 157.95 703.9 159.17 704.4 160.34 704.9 161.47 705.4 162.56 705.9 163.59 706.4 164.58 706.9 165.51 707.4 166.4 707.9 167.22 708.4 168 708.9 168.72 709.4 169.39 709.9 170.01 710.4 170.6 710.9 171.14 711.4 171.65 711.9 172.14 712.4 172.62 712.9 173.09 713.4 173.56 713.9 174.04 714.4 174.54 714.9 175.08 715.4 175.65 715.9 176.26 716.4 176.92 716.9 177.62 717.4 178.36 717.9 179.14 718.4 179.96 718.9 180.79 719.4 181.64 719.9 182.5 720.4 183.35 720.9 184.19 721.4 185.01 721.9 185.8 722.4 186.56 722.9 187.29 723.4 187.97 723.9 188.61 724.4 189.21 724.9 189.77 725.4 190.28 725.9 190.74 726.4 191.16 726.9 191.53 727.4 191.86 727.9 192.15 728.4 192.39 728.9 192.6 729.4 192.76 729.9 192.89 730.4 192.98 730.9 193.03 731.4 193.05 731.9 193.04 732.4 192.99 732.9 192.92 733.4 192.82 733.9 192.68 734.4 192.53 734.9 192.35 735.4 192.14 735.9 191.92 736.4 191.67 736.9 191.41 737.4 191.12 737.9 190.82 738.4 190.51 738.9 190.19 739.4 189.85 739.9 189.49 740.4 189.13 740.9 188.76 741.4 188.38 741.9 187.99 742.4 187.59 742.9 187.18 743.4 186.76 743.9 186.34 744.4 185.9 744.9 185.45 745.4 185 745.9 184.53 746.4 184.05 746.9 183.57 747.4 183.07 747.9 182.57" stroke="#bb8484" stroke-width="1.1" fill="none"/>
<path d="M534.4 184.05 534.9 183.73 535.4 183.46 535.9 183.23 536.4 183.02 536.9 182.85 537.4 182.69 537.9 182.55 538.4 182.42 538.9 182.29 539.4 182.16 539.9 182.02 540.4 181.87 540.9 181.69 541.4 181.49 541.9 181.27 542.4 181.01 542.9 180.71 543.4 180.37 543.9 179.99 544.4 179.57 544.9 179.1 545.4 178.59 545.9 178.02 546.4 177.41 546.9 176.74 547.4 176.03 547.9 175.26 548.4 174.44 548.9 173.57 549.4 172.66 549.9 171.69 550.4 170.67 550.9 169.61 551.4 168.5 551.9 167.34 552.4 166.14 552.9 164.89 553.4 163.61 553.9 162.28 554.4 160.92 554.9 159.53 555.4 158.1 555.9 156.65 556.4 155.18 556.9 153.69 557.4 152.19 557.9 150.68 558.4 149.17 558.9 147.66 559.4 146.16 559.9 144.68 560.4 143.21 560.9 141.76 561.4 140.34 561.9 138.95 562.4 137.59 562.9 136.27 563.4 134.99 563.9 133.75 564.4 132.55 564.9 131.38 565.4 130.26 565.9 129.16 566.4 128.1 566.9 127.07 567.4 126.06 567.9 125.07 568.4 124.11 568.9 123.18 569.4 122.26 569.9 121.38 570.4 120.51 570.9 119.68 571.4 118.88 571.9 118.1 572.4 117.36 572.9 116.65 573.4 115.97 573.9 115.33 574.4 114.72 574.9 114.15 575.4 113.63 575.9 113.14 576.4 112.7 576.9 112.31 577.4 111.96 577.9 111.66 578.4 111.41 578.9 111.21 579.4 111.06 579.9 110.96 580.4 110.91 580.9 110.91 581.4 110.95 581.9 111.05 582.4 111.18 582.9 111.37 583.4 111.6 583.9 111.87 584.4 112.18 584.9 112.54 585.4 112.94 585.9 113.37 586.4 113.85 586.9 114.36 587.4 114.91 587.9 115.5 588.4 116.11 588.9 116.76 589.4 117.44 589.9 118.15 590.4 118.89 590.9 119.66 591.4 120.45 591.9 121.27 592.4 122.11 592.9 122.98 593.4 123.87 593.9 124.78 594.4 125.71 594.9 126.66 595.4 127.63 595.9 128.62 596.4 129.63 596.9 130.65 597.4 131.69 597.9 132.75 598.4 133.82 598.9 134.9 599.4 136 599.9 137.11 600.4 138.24 600.9 139.38 601.4 140.53 601.9 141.68 602.4 142.85 602.9 144.02 603.4 145.2 603.9 146.39 604.4 147.57 604.9 148.75 605.4 149.94 605.9 151.11 606.4 152.28 606.9 153.44 607.4 154.58 607.9 155.72 608.4 156.84 608.9 157.94 609.4 159.02 609.9 160.09 610.4 161.15 610.9 162.19 611.4 163.21 611.9 164.22 612.4 165.22 612.9 166.21 613.4 167.18 613.9 168.14 614.4 169.1 614.9 170.04 615.4 170.97 615.9 171.9 616.4 172.82 616.9 173.72 617.4 174.62 617.9 175.5 618.4 176.37 618.9 177.23 619.4 178.07 619.9 178.88 620.4 179.68 620.9 180.45 621.4 181.2 621.9 181.92 622.4 182.61 622.9 183.27 623.4 183.9 623.9 184.5 624.4 185.06 624.9 185.59 625.4 186.09 625.9 186.55 626.4 186.97 626.9 187.36 627.4 187.71 627.9 188.03 628.4 188.3 628.9 188.54 629.4 188.74 629.9 188.89 630.4 189.01 630.9 189.08 631.4 189.12 631.9 189.11 632.4 189.06 632.9 188.96 633.4 188.83 633.9 188.64 634.4 188.42 634.9 188.14 635.4 187.83 635.9 187.46 636.4 187.05 636.9 186.6 637.4 186.1 637.9 185.55 638.4 184.95 638.9 184.31 639.4 183.62 639.9 182.89 640.4 182.11 640.9 181.28 641.4 180.41 641.9 179.5 642.4 178.54 642.9 177.53 643.4 176.49 643.9 175.4 644.4 174.28 644.9 173.11 645.4 171.9 645.9 170.65 646.4 169.37 646.9 168.05 647.4 166.69 647.9 165.29 648.4 163.86 648.9 162.4 649.4 160.91 649.9 159.38 650.4 157.83 650.9 156.24 651.4 154.63 651.9 152.99 652.4 151.33 652.9 149.64 653.4 147.94 653.9 146.22 654.4 144.48 654.9 142.73 655.4 140.96 655.9 139.19 656.4 137.41 656.9 135.63 657.4 133.85 657.9 132.07 658.4 130.29 658.9 128.52 659.4 126.76 659.9 125.01 660.4 123.27 660.9 121.55 661.4 119.85 661.9 118.17 662.4 116.51 662.9 114.87 663.4 113.26 663.9 111.68 664.4 110.13 664.9 108.62 665.4 107.13 665.9 105.69 666.4 104.29 666.9 102.92 667.4 101.61 667.9 100.34 668.4 99.12 668.9 97.95 669.4 96.84 669.9 95.78 670.4 94.77 670.9 93.83 671.4 92.95 671.9 92.13 672.4 91.37 672.9 90.68 673.4 90.06 673.9 89.5 674.4 89.01 674.9 88.6 675.4 88.25 675.9 87.98 676.4 87.78 676.9 87.66 677.4 87.6 677.9 87.63 678.4 87.72 678.9 87.89 679.4 88.14 679.9 88.46 680.4 88.85 680.9 89.31 681.4 89.84 681.9 90.44 682.4 91.11 682.9 91.85 683.4 92.65 683.9 93.52 684.4 94.45 684.9 95.44 685.4 96.49 685.9 97.6 686.4 98.76 686.9 99.98 687.4 101.24 687.9 102.56 688.4 103.93 688.9 105.33 689.4 106.79 689.9 108.28 690.4 109.8 690.9 111.36 691.4 112.96 691.9 114.58 692.4 116.22 692.9 117.89 693.4 119.58 693.9 121.28 694.4 122.99 694.9 124.72 695.4 126.45 695.9 128.18 696.4 129.92 696.9 131.65 697.4 133.38 697.9 135.09 698.4 136.8 698.9 138.49 699.4 140.16 699.9 141.81 700.4 143.43 700.9 145.03 701.4 146.6 701.9 148.14 702.4 149.65 702.9 151.13 703.4 152.57 703.9 153.97 704.4 155.33 704.9 156.66 705.4 157.94 705.9 159.19 706.4 160.39 706.9 161.56 707.4 162.68 707.9 163.77 708.4 164.82 708.9 165.83 709.4 166.8 709.9 167.74 710.4 168.65 710.9 169.53 711.4 170.37 711.9 171.2 712.4 171.99 712.9 172.77 713.4 173.53 713.9 174.27 714.4 174.99 714.9 175.7 715.4 176.4 715.9 177.1 716.4 177.79 716.9 178.47 717.4 179.15 717.9 179.83 718.4 180.51 718.9 181.18 719.4 181.85 719.9 182.53 720.4 183.19 720.9 183.85 721.4 184.51 721.9 185.15 722.4 185.78 722.9 186.4 723.4 186.99 723.9 187.57 724.4 188.12 724.9 188.64 725.4 189.13 725.9 189.58 726.4 189.99 726.9 190.37 727.4 190.7 727.9 190.98 728.4 191.22 728.9 191.4 729.4 191.54 729.9 191.63 730.4 191.66 730.9 191.64 731.4 191.56 731.9 191.44 732.4 191.27 732.9 191.04 733.4 190.77 733.9 190.45 734.4 190.09 734.9 189.69 735.4 189.25 735.9 188.78 736.4 188.28 736.9 187.75 737.4 187.21 737.9 186.64 738.4 186.07 738.9 185.48 739.4 184.9 739.9 184.32 740.4 183.75 740.9 183.18 741.4 182.64 741.9 182.12 742.4 181.63 742.9 181.17 743.4 180.75 743.9 180.37 744.4 180.03 744.9 179.74 745.4 179.51 745.9 179.33 746.4 179.2 746.9 179.14 747.4 179.14 747.9 179.2" stroke="#7c7c7c" stroke-width="1.1" fill="none"/>
<path d="M701.5 5.2V25.6H747.9" stroke="#8a8a8a" stroke-width="0.8" fill="none"/>
<rect x="701.9" y="5.7" width="45.5" height="19.5" fill="#fff"/>
<path d="M702.7 11.2h14" stroke="#7c7c7c" stroke-width="0.85" />
<path d="M702.7 20.9h14" stroke="#bb8484" stroke-width="0.85" />
<text x="718.75" y="13.9" class="lg" textLength="18.1" lengthAdjust="spacingAndGlyphs">Cured</text>
<text x="718.75" y="23.6" class="lg" textLength="26.9" lengthAdjust="spacingAndGlyphs">Un-cured</text>
<rect x="534.4" y="5.2" width="213.5" height="204.4" fill="none" stroke="#383838" stroke-width="1.4"/>
<text transform="translate(514.8 107) rotate(-90)" x="0" y="2.6" text-anchor="middle" class="at" textLength="41.7" lengthAdjust="spacingAndGlyphs">Absorbance</text>
<text x="641.1" y="231.7" text-anchor="middle" class="at" textLength="57.2" lengthAdjust="spacingAndGlyphs">Wavenumber(cm-1)</text>
<path d="M559.8 28H636.8M552.2 111.3H636.8" stroke="#111" stroke-width="1.75"/>
<path d="M613.8 33V106.3" stroke="#111" stroke-width="1.6"/>
<path d="M613.8 28.6l-2.6 5.6h5.2z M613.8 110.7l-2.6 -5.6h5.2z" fill="#111"/>
<text x="543" y="28.6" class="pl" textLength="12.75" lengthAdjust="spacingAndGlyphs">(c)</text>
<path d="M38 255.5V456.9M54.01 255.5V456.9M70.02 255.5V456.9M86.03 255.5V456.9M102.03 255.5V456.9M118.04 255.5V456.9M134.05 255.5V456.9M150.06 255.5V456.9M166.07 255.5V456.9M182.07 255.5V456.9M198.08 255.5V456.9M214.09 255.5V456.9M230.1 255.5V456.9M30 448.51H238.1M30 431.72H238.1M30 414.94H238.1M30 398.16H238.1M30 381.38H238.1M30 364.59H238.1M30 347.81H238.1M30 331.02H238.1M30 314.24H238.1M30 297.46H238.1M30 280.68H238.1M30 263.89H238.1" stroke="#f0f0f0" stroke-width="1" fill="none"/>
<path d="M46.01 255.5V456.9M62.02 255.5V456.9M78.02 255.5V456.9M94.03 255.5V456.9M110.04 255.5V456.9M126.05 255.5V456.9M142.05 255.5V456.9M158.06 255.5V456.9M174.07 255.5V456.9M190.08 255.5V456.9M206.08 255.5V456.9M222.09 255.5V456.9M30 440.12H238.1M30 423.33H238.1M30 406.55H238.1M30 389.77H238.1M30 372.98H238.1M30 356.2H238.1M30 339.42H238.1M30 322.63H238.1M30 305.85H238.1M30 289.07H238.1M30 272.28H238.1" stroke="#d0d0d0" stroke-width="1" fill="none"/>
<path d="M30 456.9v3.5M38 456.9v2M46.01 456.9v3.5M54.01 456.9v2M62.02 456.9v3.5M70.02 456.9v2M78.02 456.9v3.5M86.03 456.9v2M94.03 456.9v3.5M102.03 456.9v2M110.04 456.9v3.5M118.04 456.9v2M126.05 456.9v3.5M134.05 456.9v2M142.05 456.9v3.5M150.06 456.9v2M158.06 456.9v3.5M166.07 456.9v2M174.07 456.9v3.5M182.07 456.9v2M190.08 456.9v3.5M198.08 456.9v2M206.08 456.9v3.5M214.09 456.9v2M222.09 456.9v3.5M230.1 456.9v2M238.1 456.9v3.5M30 456.9h-3.5M30 448.51h-2M30 440.12h-3.5M30 431.72h-2M30 423.33h-3.5M30 414.94h-2M30 406.55h-3.5M30 398.16h-2M30 389.77h-3.5M30 381.38h-2M30 372.98h-3.5M30 364.59h-2M30 356.2h-3.5M30 347.81h-2M30 339.42h-3.5M30 331.02h-2M30 322.63h-3.5M30 314.24h-2M30 305.85h-3.5M30 297.46h-2M30 289.07h-3.5M30 280.68h-2M30 272.28h-3.5M30 263.89h-2M30 255.5h-3.5" stroke="#3a3a3a" stroke-width="1" fill="none"/>
<text x="30" y="467.2" textLength="8.56" lengthAdjust="spacingAndGlyphs" class="tl" text-anchor="middle">1650</text>
<text x="46.01" y="467.2" textLength="8.56" lengthAdjust="spacingAndGlyphs" class="tl" text-anchor="middle">1645</text>
<text x="62.02" y="467.2" textLength="8.56" lengthAdjust="spacingAndGlyphs" class="tl" text-anchor="middle">1640</text>
<text x="78.02" y="467.2" textLength="8.56" lengthAdjust="spacingAndGlyphs" class="tl" text-anchor="middle">1635</text>
<text x="94.03" y="467.2" textLength="8.56" lengthAdjust="spacingAndGlyphs" class="tl" text-anchor="middle">1630</text>
<text x="110.04" y="467.2" textLength="8.56" lengthAdjust="spacingAndGlyphs" class="tl" text-anchor="middle">1625</text>
<text x="126.05" y="467.2" textLength="8.56" lengthAdjust="spacingAndGlyphs" class="tl" text-anchor="middle">1620</text>
<text x="142.05" y="467.2" textLength="8.56" lengthAdjust="spacingAndGlyphs" class="tl" text-anchor="middle">1615</text>
<text x="158.06" y="467.2" textLength="8.56" lengthAdjust="spacingAndGlyphs" class="tl" text-anchor="middle">1610</text>
<text x="174.07" y="467.2" textLength="8.56" lengthAdjust="spacingAndGlyphs" class="tl" text-anchor="middle">1605</text>
<text x="190.08" y="467.2" textLength="8.56" lengthAdjust="spacingAndGlyphs" class="tl" text-anchor="middle">1600</text>
<text x="206.08" y="467.2" textLength="8.56" lengthAdjust="spacingAndGlyphs" class="tl" text-anchor="middle">1595</text>
<text x="222.09" y="467.2" textLength="8.56" lengthAdjust="spacingAndGlyphs" class="tl" text-anchor="middle">1590</text>
<text x="238.1" y="467.2" textLength="8.56" lengthAdjust="spacingAndGlyphs" class="tl" text-anchor="middle">1585</text>
<text x="24.3" y="458.6" textLength="11.06" lengthAdjust="spacingAndGlyphs" class="tl" text-anchor="end">-0.005</text>
<text x="24.3" y="441.82" textLength="9.76" lengthAdjust="spacingAndGlyphs" class="tl" text-anchor="end">0.000</text>
<text x="24.3" y="425.03" textLength="9.76" lengthAdjust="spacingAndGlyphs" class="tl" text-anchor="end">0.005</text>
<text x="24.3" y="408.25" textLength="9.76" lengthAdjust="spacingAndGlyphs" class="tl" text-anchor="end">0.010</text>
<text x="24.3" y="391.47" textLength="9.76" lengthAdjust="spacingAndGlyphs" class="tl" text-anchor="end">0.015</text>
<text x="24.3" y="374.68" textLength="9.76" lengthAdjust="spacingAndGlyphs" class="tl" text-anchor="end">0.020</text>
<text x="24.3" y="357.9" textLength="9.76" lengthAdjust="spacingAndGlyphs" class="tl" text-anchor="end">0.025</text>
<text x="24.3" y="341.12" textLength="9.76" lengthAdjust="spacingAndGlyphs" class="tl" text-anchor="end">0.030</text>
<text x="24.3" y="324.33" textLength="9.76" lengthAdjust="spacingAndGlyphs" class="tl" text-anchor="end">0.035</text>
<text x="24.3" y="307.55" textLength="9.76" lengthAdjust="spacingAndGlyphs" class="tl" text-anchor="end">0.040</text>
<text x="24.3" y="290.77" textLength="9.76" lengthAdjust="spacingAndGlyphs" class="tl" text-anchor="end">0.045</text>
<text x="24.3" y="273.98" textLength="9.76" lengthAdjust="spacingAndGlyphs" class="tl" text-anchor="end">0.050</text>
<text x="24.3" y="257.2" textLength="9.76" lengthAdjust="spacingAndGlyphs" class="tl" text-anchor="end">0.055</text>
<path d="M30 433.45 30.5 433.64 31 433.75 31.5 433.77 32 433.71 32.5 433.56 33 433.32 33.5 432.98 34 432.55 34.5 432.03 35 431.41 35.5 430.69 36 429.89 36.5 428.99 37 427.99 37.5 426.92 38 425.75 38.5 424.5 39 423.17 39.5 421.76 40 420.27 40.5 418.71 41 417.08 41.5 415.38 42 413.62 42.5 411.79 43 409.91 43.5 407.97 44 405.97 44.5 403.92 45 401.83 45.5 399.69 46 397.51 46.5 395.28 47 393.02 47.5 390.73 48 388.41 48.5 386.05 49 383.67 49.5 381.27 50 378.86 50.5 376.42 51 373.97 51.5 371.52 52 369.05 52.5 366.59 53 364.12 53.5 361.65 54 359.19 54.5 356.73 55 354.28 55.5 351.84 56 349.41 56.5 347 57 344.59 57.5 342.2 58 339.83 58.5 337.48 59 335.14 59.5 332.83 60 330.55 60.5 328.29 61 326.06 61.5 323.86 62 321.69 62.5 319.57 63 317.48 63.5 315.44 64 313.45 64.5 311.5 65 309.61 65.5 307.77 66 305.99 66.5 304.28 67 302.62 67.5 301.04 68 299.52 68.5 298.07 69 296.7 69.5 295.41 70 294.19 70.5 293.06 71 292.02 71.5 291.07 72 290.21 72.5 289.45 73 288.78 73.5 288.23 74 287.78 74.5 287.44 75 287.21 75.5 287.09 76 287.09 76.5 287.2 77 287.43 77.5 287.77 78 288.22 78.5 288.79 79 289.45 79.5 290.23 80 291.1 80.5 292.06 81 293.12 81.5 294.27 82 295.5 82.5 296.81 83 298.19 83.5 299.65 84 301.17 84.5 302.75 85 304.39 85.5 306.08 86 307.83 86.5 309.61 87 311.44 87.5 313.3 88 315.2 88.5 317.12 89 319.07 89.5 321.04 90 323.02 90.5 325.01 91 327.02 91.5 329.03 92 331.04 92.5 333.04 93 335.05 93.5 337.04 94 339.03 94.5 341.01 95 342.97 95.5 344.92 96 346.84 96.5 348.75 97 350.64 97.5 352.51 98 354.36 98.5 356.19 99 357.99 99.5 359.77 100 361.53 100.5 363.28 101 365 101.5 366.71 102 368.4 102.5 370.08 103 371.75 103.5 373.42 104 375.09 104.5 376.75 105 378.42 105.5 380.1 106 381.79 106.5 383.5 107 385.22 107.5 386.96 108 388.72 108.5 390.49 109 392.28 109.5 394.09 110 395.91 110.5 397.73 111 399.57 111.5 401.4 112 403.24 112.5 405.07 113 406.9 113.5 408.71 114 410.5 114.5 412.28 115 414.03 115.5 415.76 116 417.45 116.5 419.11 117 420.73 117.5 422.31 118 423.85 118.5 425.34 119 426.78 119.5 428.17 120 429.51 120.5 430.79 121 432 121.5 433.16 122 434.26 122.5 435.28 123 436.24 123.5 437.14 124 437.96 124.5 438.7 125 439.38 125.5 439.98 126 440.51 126.5 440.97 127 441.35 127.5 441.66 128 441.9 128.5 442.07 129 442.17 129.5 442.19 130 442.15 130.5 442.04 131 441.86 131.5 441.61 132 441.3 132.5 440.92 133 440.47 133.5 439.96 134 439.38 134.5 438.75 135 438.05 135.5 437.29 136 436.47 136.5 435.59 137 434.66 137.5 433.68 138 432.64 138.5 431.56 139 430.42 139.5 429.24 140 428.01 140.5 426.74 141 425.43 141.5 424.08 142 422.7 142.5 421.3 143 419.87 143.5 418.41 144 416.94 144.5 415.44 145 413.93 145.5 412.41 146 410.87 146.5 409.31 147 407.75 147.5 406.18 148 404.6 148.5 403.01 149 401.42 149.5 399.83 150 398.24 150.5 396.65 151 395.06 151.5 393.48 152 391.9 152.5 390.34 153 388.79 153.5 387.25 154 385.73 154.5 384.22 155 382.74 155.5 381.29 156 379.85 156.5 378.45 157 377.08 157.5 375.74 158 374.44 158.5 373.18 159 371.96 159.5 370.78 160 369.64 160.5 368.55 161 367.51 161.5 366.52 162 365.58 162.5 364.69 163 363.86 163.5 363.08 164 362.35 164.5 361.69 165 361.08 165.5 360.53 166 360.04 166.5 359.61 167 359.24 167.5 358.92 168 358.67 168.5 358.48 169 358.34 169.5 358.27 170 358.25 170.5 358.29 171 358.38 171.5 358.53 172 358.73 172.5 358.99 173 359.3 173.5 359.66 174 360.07 174.5 360.54 175 361.05 175.5 361.61 176 362.22 176.5 362.88 177 363.59 177.5 364.34 178 365.13 178.5 365.97 179 366.84 179.5 367.75 180 368.7 180.5 369.68 181 370.69 181.5 371.73 182 372.8 182.5 373.89 183 375 183.5 376.12 184 377.27 184.5 378.42 185 379.58 185.5 380.75 186 381.93 186.5 383.11 187 384.28 187.5 385.46 188 386.63 188.5 387.79 189 388.95 189.5 390.1 190 391.23 190.5 392.36 191 393.47 191.5 394.57 192 395.65 192.5 396.72 193 397.77 193.5 398.8 194 399.81 194.5 400.81 195 401.78 195.5 402.73 196 403.66 196.5 404.56 197 405.44 197.5 406.29 198 407.11 198.5 407.9 199 408.67 199.5 409.4 200 410.11 200.5 410.79 201 411.44 201.5 412.06 202 412.66 202.5 413.23 203 413.77 203.5 414.3 204 414.79 204.5 415.27 205 415.73 205.5 416.16 206 416.58 206.5 416.99 207 417.37 207.5 417.75 208 418.11 208.5 418.46 209 418.81 209.5 419.15 210 419.49 210.5 419.83 211 420.17 211.5 420.52 212 420.87 212.5 421.24 213 421.61 213.5 421.99 214 422.39 214.5 422.81 215 423.24 215.5 423.68 216 424.14 216.5 424.61 217 425.1 217.5 425.59 218 426.08 218.5 426.58 219 427.08 219.5 427.57 220 428.05 220.5 428.51 221 428.96 221.5 429.39 222 429.8 222.5 430.18 223 430.53 223.5 430.84 224 431.12 224.5 431.37 225 431.57 225.5 431.73 226 431.85 226.5 431.92 227 431.94 227.5 431.91 228 431.84 228.5 431.71 229 431.55 229.5 431.34 230 431.09 230.5 430.81 231 430.49 231.5 430.15 232 429.79 232.5 429.43 233 429.05 233.5 428.69 234 428.34 234.5 428.01 235 427.72 235.5 427.46 236 427.27 236.5 427.13 237 427.06 237.5 427.07 238 427.16 238.1 427.19" stroke="#bb8484" stroke-width="1.1" fill="none"/>
<path d="M30 437.59 30.5 437.4 31 437.24 31.5 437.1 32 436.98 32.5 436.87 33 436.78 33.5 436.69 34 436.6 34.5 436.51 35 436.41 35.5 436.3 36 436.17 36.5 436.03 37 435.86 37.5 435.67 38 435.45 38.5 435.2 39 434.93 39.5 434.62 40 434.28 40.5 433.9 41 433.49 41.5 433.05 42 432.58 42.5 432.07 43 431.54 43.5 430.97 44 430.38 44.5 429.75 45 429.11 45.5 428.43 46 427.74 46.5 427.02 47 426.28 47.5 425.52 48 424.75 48.5 423.95 49 423.15 49.5 422.33 50 421.5 50.5 420.66 51 419.8 51.5 418.94 52 418.07 52.5 417.2 53 416.31 53.5 415.43 54 414.54 54.5 413.64 55 412.74 55.5 411.84 56 410.94 56.5 410.04 57 409.14 57.5 408.24 58 407.35 58.5 406.45 59 405.57 59.5 404.69 60 403.81 60.5 402.94 61 402.08 61.5 401.23 62 400.39 62.5 399.56 63 398.74 63.5 397.94 64 397.15 64.5 396.38 65 395.62 65.5 394.89 66 394.17 66.5 393.48 67 392.81 67.5 392.17 68 391.55 68.5 390.96 69 390.39 69.5 389.86 70 389.36 70.5 388.9 71 388.46 71.5 388.07 72 387.7 72.5 387.38 73 387.09 73.5 386.84 74 386.63 74.5 386.45 75 386.31 75.5 386.21 76 386.14 76.5 386.11 77 386.11 77.5 386.15 78 386.22 78.5 386.32 79 386.45 79.5 386.61 80 386.81 80.5 387.03 81 387.29 81.5 387.57 82 387.89 82.5 388.23 83 388.61 83.5 389.01 84 389.45 84.5 389.92 85 390.41 85.5 390.94 86 391.49 86.5 392.07 87 392.68 87.5 393.31 88 393.97 88.5 394.66 89 395.36 89.5 396.09 90 396.83 90.5 397.6 91 398.38 91.5 399.16 92 399.96 92.5 400.77 93 401.58 93.5 402.39 94 403.2 94.5 404.02 95 404.83 95.5 405.63 96 406.44 96.5 407.24 97 408.03 97.5 408.82 98 409.6 98.5 410.38 99 411.15 99.5 411.91 100 412.66 100.5 413.41 101 414.14 101.5 414.87 102 415.59 102.5 416.31 103 417.01 103.5 417.71 104 418.39 104.5 419.07 105 419.74 105.5 420.39 106 421.03 106.5 421.66 107 422.28 107.5 422.88 108 423.47 108.5 424.04 109 424.6 109.5 425.14 110 425.66 110.5 426.17 111 426.66 111.5 427.13 112 427.59 112.5 428.04 113 428.47 113.5 428.89 114 429.29 114.5 429.68 115 430.06 115.5 430.43 116 430.78 116.5 431.11 117 431.43 117.5 431.73 118 432.02 118.5 432.28 119 432.53 119.5 432.75 120 432.94 120.5 433.11 121 433.25 121.5 433.35 122 433.43 122.5 433.48 123 433.49 123.5 433.47 124 433.41 124.5 433.32 125 433.2 125.5 433.04 126 432.84 126.5 432.61 127 432.35 127.5 432.04 128 431.7 128.5 431.33 129 430.92 129.5 430.47 130 429.98 130.5 429.45 131 428.89 131.5 428.29 132 427.65 132.5 426.98 133 426.26 133.5 425.51 134 424.72 134.5 423.9 135 423.04 135.5 422.14 136 421.21 136.5 420.24 137 419.24 137.5 418.2 138 417.13 138.5 416.02 139 414.89 139.5 413.72 140 412.52 140.5 411.29 141 410.03 141.5 408.73 142 407.41 142.5 406.06 143 404.68 143.5 403.27 144 401.83 144.5 400.38 145 398.89 145.5 397.39 146 395.87 146.5 394.33 147 392.78 147.5 391.21 148 389.63 148.5 388.05 149 386.46 149.5 384.86 150 383.27 150.5 381.67 151 380.08 151.5 378.5 152 376.92 152.5 375.35 153 373.8 153.5 372.26 154 370.74 154.5 369.24 155 367.76 155.5 366.3 156 364.87 156.5 363.47 157 362.09 157.5 360.75 158 359.45 158.5 358.18 159 356.95 159.5 355.77 160 354.62 160.5 353.52 161 352.46 161.5 351.46 162 350.5 162.5 349.59 163 348.73 163.5 347.92 164 347.17 164.5 346.46 165 345.81 165.5 345.21 166 344.65 166.5 344.15 167 343.71 167.5 343.31 168 342.95 168.5 342.65 169 342.39 169.5 342.19 170 342.03 170.5 341.91 171 341.84 171.5 341.83 172 341.86 172.5 341.94 173 342.07 173.5 342.26 174 342.51 174.5 342.82 175 343.19 175.5 343.64 176 344.15 176.5 344.75 177 345.42 177.5 346.17 178 347 178.5 347.92 179 348.92 179.5 350.01 180 351.17 180.5 352.41 181 353.73 181.5 355.11 182 356.55 182.5 358.04 183 359.58 183.5 361.16 184 362.76 184.5 364.4 185 366.05 185.5 367.72 186 369.39 186.5 371.06 187 372.73 187.5 374.39 188 376.05 188.5 377.68 189 379.3 189.5 380.9 190 382.48 190.5 384.03 191 385.56 191.5 387.06 192 388.54 192.5 389.98 193 391.4 193.5 392.8 194 394.16 194.5 395.49 195 396.8 195.5 398.08 196 399.33 196.5 400.56 197 401.76 197.5 402.93 198 404.08 198.5 405.2 199 406.3 199.5 407.38 200 408.44 200.5 409.47 201 410.49 201.5 411.48 202 412.46 202.5 413.42 203 414.36 203.5 415.28 204 416.19 204.5 417.09 205 417.97 205.5 418.83 206 419.69 206.5 420.53 207 421.36 207.5 422.18 208 422.98 208.5 423.78 209 424.57 209.5 425.35 210 426.12 210.5 426.87 211 427.62 211.5 428.36 212 429.09 212.5 429.81 213 430.51 213.5 431.21 214 431.89 214.5 432.57 215 433.23 215.5 433.87 216 434.5 216.5 435.12 217 435.72 217.5 436.3 218 436.86 218.5 437.41 219 437.93 219.5 438.44 220 438.92 220.5 439.38 221 439.81 221.5 440.21 222 440.59 222.5 440.94 223 441.26 223.5 441.55 224 441.81 224.5 442.03 225 442.22 225.5 442.37 226 442.49 226.5 442.57 227 442.61 227.5 442.61 228 442.58 228.5 442.5 229 442.39 229.5 442.24 230 442.05 230.5 441.83 231 441.58 231.5 441.29 232 440.98 232.5 440.65 233 440.29 233.5 439.91 234 439.53 234.5 439.13 235 438.73 235.5 438.33 236 437.94 236.5 437.57 237 437.21 237.5 436.87 238 436.56 238.1 436.51" stroke="#7c7c7c" stroke-width="1.1" fill="none"/>
<path d="M193.5 255.5V275.6H238.1" stroke="#8a8a8a" stroke-width="0.8" fill="none"/>
<rect x="193.9" y="256" width="43.7" height="19.2" fill="#fff"/>
<path d="M194.7 261.43h14" stroke="#7c7c7c" stroke-width="0.85" />
<path d="M194.7 270.97h14" stroke="#bb8484" stroke-width="0.85" />
<text x="210.25" y="264.13" class="lg" textLength="17" lengthAdjust="spacingAndGlyphs">Cured</text>
<text x="210.25" y="273.67" class="lg" textLength="25.75" lengthAdjust="spacingAndGlyphs">Un-cured</text>
<rect x="30" y="255.5" width="208.1" height="201.4" fill="none" stroke="#383838" stroke-width="1.4"/>
<text transform="translate(6.9 355.7) rotate(-90)" x="0" y="2.6" text-anchor="middle" class="at" textLength="40.6" lengthAdjust="spacingAndGlyphs">Absorbance</text>
<text x="134" y="478.2" text-anchor="middle" class="at" textLength="55.4" lengthAdjust="spacingAndGlyphs">Wavenumber(cm-1)</text>
<path d="M55.8 285.6H133.8M49.4 386.9H133.8" stroke="#111" stroke-width="1.75"/>
<path d="M110.5 290.6V381.9" stroke="#111" stroke-width="1.6"/>
<path d="M110.5 286.2l-2.6 5.6h5.2z M110.5 386.3l-2.6 -5.6h5.2z" fill="#111"/>
<text x="37" y="276.75" class="pl" textLength="14.5" lengthAdjust="spacingAndGlyphs">(d)</text>
<path d="M282.62 249.9V455M299.06 249.9V455M315.5 249.9V455M331.93 249.9V455M348.37 249.9V455M364.81 249.9V455M381.25 249.9V455M397.69 249.9V455M414.13 249.9V455M430.57 249.9V455M447 249.9V455M463.44 249.9V455M479.88 249.9V455M274.4 418.01H488.1M274.4 380.66H488.1M274.4 343.3H488.1M274.4 305.94H488.1M274.4 268.58H488.1" stroke="#f0f0f0" stroke-width="1" fill="none"/>
<path d="M290.84 249.9V455M307.28 249.9V455M323.72 249.9V455M340.15 249.9V455M356.59 249.9V455M373.03 249.9V455M389.47 249.9V455M405.91 249.9V455M422.35 249.9V455M438.78 249.9V455M455.22 249.9V455M471.66 249.9V455M274.4 436.69H488.1M274.4 399.34H488.1M274.4 361.98H488.1M274.4 324.62H488.1M274.4 287.26H488.1" stroke="#d0d0d0" stroke-width="1" fill="none"/>
<path d="M274.4 455v3.5M282.62 455v2M290.84 455v3.5M299.06 455v2M307.28 455v3.5M315.5 455v2M323.72 455v3.5M331.93 455v2M340.15 455v3.5M348.37 455v2M356.59 455v3.5M364.81 455v2M373.03 455v3.5M381.25 455v2M389.47 455v3.5M397.69 455v2M405.91 455v3.5M414.13 455v2M422.35 455v3.5M430.57 455v2M438.78 455v3.5M447 455v2M455.22 455v3.5M463.44 455v2M471.66 455v3.5M479.88 455v2M488.1 455v3.5M274.4 436.69h-3.5M274.4 418.01h-2M274.4 399.34h-3.5M274.4 380.66h-2M274.4 361.98h-3.5M274.4 343.3h-2M274.4 324.62h-3.5M274.4 305.94h-2M274.4 287.26h-3.5M274.4 268.58h-2M274.4 249.9h-3.5" stroke="#3a3a3a" stroke-width="1" fill="none"/>
<text x="274.4" y="465.3" textLength="8.56" lengthAdjust="spacingAndGlyphs" class="tl" text-anchor="middle">1650</text>
<text x="290.84" y="465.3" textLength="8.56" lengthAdjust="spacingAndGlyphs" class="tl" text-anchor="middle">1645</text>
<text x="307.28" y="465.3" textLength="8.56" lengthAdjust="spacingAndGlyphs" class="tl" text-anchor="middle">1640</text>
<text x="323.72" y="465.3" textLength="8.56" lengthAdjust="spacingAndGlyphs" class="tl" text-anchor="middle">1635</text>
<text x="340.15" y="465.3" textLength="8.56" lengthAdjust="spacingAndGlyphs" class="tl" text-anchor="middle">1630</text>
<text x="356.59" y="465.3" textLength="8.56" lengthAdjust="spacingAndGlyphs" class="tl" text-anchor="middle">1625</text>
<text x="373.03" y="465.3" textLength="8.56" lengthAdjust="spacingAndGlyphs" class="tl" text-anchor="middle">1620</text>
<text x="389.47" y="465.3" textLength="8.56" lengthAdjust="spacingAndGlyphs" class="tl" text-anchor="middle">1615</text>
<text x="405.91" y="465.3" textLength="8.56" lengthAdjust="spacingAndGlyphs" class="tl" text-anchor="middle">1610</text>
<text x="422.35" y="465.3" textLength="8.56" lengthAdjust="spacingAndGlyphs" class="tl" text-anchor="middle">1605</text>
<text x="438.78" y="465.3" textLength="8.56" lengthAdjust="spacingAndGlyphs" class="tl" text-anchor="middle">1600</text>
<text x="455.22" y="465.3" textLength="8.56" lengthAdjust="spacingAndGlyphs" class="tl" text-anchor="middle">1595</text>
<text x="471.66" y="465.3" textLength="8.56" lengthAdjust="spacingAndGlyphs" class="tl" text-anchor="middle">1590</text>
<text x="488.1" y="465.3" textLength="8.56" lengthAdjust="spacingAndGlyphs" class="tl" text-anchor="middle">1585</text>
<text x="268.7" y="438.39" textLength="7.59" lengthAdjust="spacingAndGlyphs" class="tl" text-anchor="end">0.00</text>
<text x="268.7" y="401.04" textLength="7.59" lengthAdjust="spacingAndGlyphs" class="tl" text-anchor="end">0.01</text>
<text x="268.7" y="363.68" textLength="7.59" lengthAdjust="spacingAndGlyphs" class="tl" text-anchor="end">0.02</text>
<text x="268.7" y="326.32" textLength="7.59" lengthAdjust="spacingAndGlyphs" class="tl" text-anchor="end">0.03</text>
<text x="268.7" y="288.96" textLength="7.59" lengthAdjust="spacingAndGlyphs" class="tl" text-anchor="end">0.04</text>
<text x="268.7" y="251.6" textLength="7.59" lengthAdjust="spacingAndGlyphs" class="tl" text-anchor="end">0.05</text>
<path d="M274.4 439.43 274.9 438.89 275.4 438.35 275.9 437.82 276.4 437.29 276.9 436.75 277.4 436.19 277.9 435.61 278.4 435 278.9 434.35 279.4 433.66 279.9 432.93 280.4 432.14 280.9 431.29 281.4 430.38 281.9 429.4 282.4 428.35 282.9 427.22 283.4 426.02 283.9 424.74 284.4 423.38 284.9 421.94 285.4 420.41 285.9 418.81 286.4 417.13 286.9 415.37 287.4 413.53 287.9 411.62 288.4 409.64 288.9 407.59 289.4 405.47 289.9 403.28 290.4 401.04 290.9 398.74 291.4 396.39 291.9 393.98 292.4 391.53 292.9 389.04 293.4 386.5 293.9 383.93 294.4 381.33 294.9 378.69 295.4 376.02 295.9 373.33 296.4 370.6 296.9 367.85 297.4 365.08 297.9 362.28 298.4 359.45 298.9 356.6 299.4 353.73 299.9 350.84 300.4 347.93 300.9 345.01 301.4 342.08 301.9 339.15 302.4 336.21 302.9 333.28 303.4 330.36 303.9 327.45 304.4 324.56 304.9 321.7 305.4 318.87 305.9 316.07 306.4 313.31 306.9 310.59 307.4 307.92 307.9 305.31 308.4 302.75 308.9 300.25 309.4 297.82 309.9 295.46 310.4 293.17 310.9 290.96 311.4 288.82 311.9 286.77 312.4 284.81 312.9 282.93 313.4 281.14 313.9 279.44 314.4 277.84 314.9 276.33 315.4 274.92 315.9 273.6 316.4 272.38 316.9 271.27 317.4 270.25 317.9 269.34 318.4 268.53 318.9 267.84 319.4 267.25 319.9 266.77 320.4 266.4 320.9 266.15 321.4 266.02 321.9 266 322.4 266.1 322.9 266.32 323.4 266.66 323.9 267.11 324.4 267.68 324.9 268.37 325.4 269.17 325.9 270.08 326.4 271.1 326.9 272.22 327.4 273.44 327.9 274.75 328.4 276.15 328.9 277.63 329.4 279.19 329.9 280.82 330.4 282.51 330.9 284.26 331.4 286.06 331.9 287.91 332.4 289.8 332.9 291.72 333.4 293.67 333.9 295.64 334.4 297.64 334.9 299.64 335.4 301.65 335.9 303.67 336.4 305.7 336.9 307.72 337.4 309.75 337.9 311.77 338.4 313.79 338.9 315.81 339.4 317.83 339.9 319.85 340.4 321.87 340.9 323.89 341.4 325.91 341.9 327.94 342.4 329.97 342.9 332.01 343.4 334.05 343.9 336.11 344.4 338.17 344.9 340.24 345.4 342.33 345.9 344.42 346.4 346.53 346.9 348.65 347.4 350.78 347.9 352.93 348.4 355.09 348.9 357.27 349.4 359.46 349.9 361.68 350.4 363.9 350.9 366.15 351.4 368.41 351.9 370.69 352.4 372.98 352.9 375.28 353.4 377.59 353.9 379.91 354.4 382.24 354.9 384.57 355.4 386.89 355.9 389.22 356.4 391.54 356.9 393.84 357.4 396.14 357.9 398.41 358.4 400.67 358.9 402.89 359.4 405.09 359.9 407.25 360.4 409.37 360.9 411.45 361.4 413.49 361.9 415.47 362.4 417.39 362.9 419.26 363.4 421.07 363.9 422.81 364.4 424.48 364.9 426.08 365.4 427.61 365.9 429.07 366.4 430.45 366.9 431.76 367.4 432.99 367.9 434.14 368.4 435.22 368.9 436.22 369.4 437.15 369.9 438.01 370.4 438.79 370.9 439.51 371.4 440.16 371.9 440.74 372.4 441.26 372.9 441.72 373.4 442.11 373.9 442.44 374.4 442.72 374.9 442.94 375.4 443.1 375.9 443.21 376.4 443.27 376.9 443.28 377.4 443.24 377.9 443.14 378.4 443 378.9 442.81 379.4 442.58 379.9 442.3 380.4 441.98 380.9 441.61 381.4 441.19 381.9 440.74 382.4 440.24 382.9 439.7 383.4 439.12 383.9 438.49 384.4 437.83 384.9 437.12 385.4 436.37 385.9 435.59 386.4 434.76 386.9 433.89 387.4 432.98 387.9 432.04 388.4 431.05 388.9 430.02 389.4 428.96 389.9 427.85 390.4 426.7 390.9 425.51 391.4 424.29 391.9 423.02 392.4 421.72 392.9 420.39 393.4 419.01 393.9 417.61 394.4 416.17 394.9 414.7 395.4 413.2 395.9 411.67 396.4 410.11 396.9 408.54 397.4 406.94 397.9 405.32 398.4 403.68 398.9 402.03 399.4 400.36 399.9 398.68 400.4 397 400.9 395.31 401.4 393.61 401.9 391.92 402.4 390.22 402.9 388.53 403.4 386.85 403.9 385.18 404.4 383.52 404.9 381.88 405.4 380.25 405.9 378.65 406.4 377.08 406.9 375.53 407.4 374.01 407.9 372.53 408.4 371.09 408.9 369.7 409.4 368.35 409.9 367.06 410.4 365.82 410.9 364.63 411.4 363.51 411.9 362.46 412.4 361.47 412.9 360.55 413.4 359.7 413.9 358.92 414.4 358.21 414.9 357.58 415.4 357.02 415.9 356.54 416.4 356.12 416.9 355.79 417.4 355.52 417.9 355.32 418.4 355.2 418.9 355.14 419.4 355.16 419.9 355.24 420.4 355.39 420.9 355.61 421.4 355.89 421.9 356.24 422.4 356.65 422.9 357.12 423.4 357.66 423.9 358.26 424.4 358.92 424.9 359.63 425.4 360.41 425.9 361.24 426.4 362.12 426.9 363.06 427.4 364.04 427.9 365.07 428.4 366.15 428.9 367.26 429.4 368.42 429.9 369.61 430.4 370.83 430.9 372.08 431.4 373.36 431.9 374.65 432.4 375.97 432.9 377.3 433.4 378.63 433.9 379.98 434.4 381.33 434.9 382.68 435.4 384.03 435.9 385.38 436.4 386.72 436.9 388.06 437.4 389.39 437.9 390.71 438.4 392.01 438.9 393.3 439.4 394.58 439.9 395.84 440.4 397.08 440.9 398.31 441.4 399.52 441.9 400.7 442.4 401.87 442.9 403.01 443.4 404.13 443.9 405.23 444.4 406.3 444.9 407.35 445.4 408.38 445.9 409.38 446.4 410.35 446.9 411.3 447.4 412.22 447.9 413.12 448.4 414 448.9 414.85 449.4 415.67 449.9 416.47 450.4 417.25 450.9 418.01 451.4 418.74 451.9 419.45 452.4 420.14 452.9 420.8 453.4 421.45 453.9 422.08 454.4 422.69 454.9 423.28 455.4 423.86 455.9 424.43 456.4 424.98 456.9 425.51 457.4 426.04 457.9 426.55 458.4 427.05 458.9 427.54 459.4 428.03 459.9 428.5 460.4 428.96 460.9 429.41 461.4 429.86 461.9 430.3 462.4 430.72 462.9 431.14 463.4 431.56 463.9 431.96 464.4 432.36 464.9 432.75 465.4 433.13 465.9 433.5 466.4 433.85 466.9 434.2 467.4 434.53 467.9 434.85 468.4 435.16 468.9 435.45 469.4 435.71 469.9 435.96 470.4 436.19 470.9 436.4 471.4 436.57 471.9 436.73 472.4 436.85 472.9 436.94 473.4 437 473.9 437.02 474.4 437 474.9 436.95 475.4 436.85 475.9 436.71 476.4 436.54 476.9 436.31 477.4 436.05 477.9 435.74 478.4 435.39 478.9 435 479.4 434.58 479.9 434.12 480.4 433.63 480.9 433.12 481.4 432.58 481.9 432.03 482.4 431.47 482.9 430.91 483.4 430.36 483.9 429.81 484.4 429.3 484.9 428.8 485.4 428.35 485.9 427.95 486.4 427.59 486.9 427.3 487.4 427.08 487.9 426.93 488.1 426.89" stroke="#bb8484" stroke-width="1.1" fill="none"/>
<path d="M274.4 431.47 274.9 431.35 275.4 431.22 275.9 431.09 276.4 430.94 276.9 430.79 277.4 430.64 277.9 430.47 278.4 430.29 278.9 430.1 279.4 429.9 279.9 429.68 280.4 429.46 280.9 429.21 281.4 428.95 281.9 428.68 282.4 428.39 282.9 428.08 283.4 427.75 283.9 427.4 284.4 427.04 284.9 426.65 285.4 426.25 285.9 425.82 286.4 425.38 286.9 424.91 287.4 424.43 287.9 423.92 288.4 423.4 288.9 422.85 289.4 422.29 289.9 421.7 290.4 421.09 290.9 420.46 291.4 419.82 291.9 419.14 292.4 418.45 292.9 417.74 293.4 417 293.9 416.25 294.4 415.47 294.9 414.66 295.4 413.84 295.9 412.99 296.4 412.11 296.9 411.22 297.4 410.3 297.9 409.36 298.4 408.39 298.9 407.4 299.4 406.39 299.9 405.36 300.4 404.31 300.9 403.24 301.4 402.16 301.9 401.05 302.4 399.94 302.9 398.81 303.4 397.67 303.9 396.53 304.4 395.38 304.9 394.23 305.4 393.08 305.9 391.94 306.4 390.8 306.9 389.68 307.4 388.58 307.9 387.49 308.4 386.42 308.9 385.39 309.4 384.38 309.9 383.4 310.4 382.46 310.9 381.56 311.4 380.7 311.9 379.88 312.4 379.1 312.9 378.37 313.4 377.68 313.9 377.03 314.4 376.43 314.9 375.87 315.4 375.35 315.9 374.87 316.4 374.43 316.9 374.03 317.4 373.66 317.9 373.33 318.4 373.03 318.9 372.76 319.4 372.52 319.9 372.31 320.4 372.13 320.9 371.97 321.4 371.84 321.9 371.73 322.4 371.65 322.9 371.6 323.4 371.57 323.9 371.57 324.4 371.59 324.9 371.65 325.4 371.74 325.9 371.85 326.4 372 326.9 372.19 327.4 372.41 327.9 372.67 328.4 372.97 328.9 373.3 329.4 373.68 329.9 374.1 330.4 374.57 330.9 375.07 331.4 375.62 331.9 376.21 332.4 376.84 332.9 377.51 333.4 378.22 333.9 378.97 334.4 379.75 334.9 380.57 335.4 381.42 335.9 382.3 336.4 383.21 336.9 384.15 337.4 385.1 337.9 386.08 338.4 387.07 338.9 388.08 339.4 389.11 339.9 390.14 340.4 391.18 340.9 392.23 341.4 393.28 341.9 394.34 342.4 395.39 342.9 396.45 343.4 397.5 343.9 398.55 344.4 399.59 344.9 400.63 345.4 401.65 345.9 402.67 346.4 403.67 346.9 404.66 347.4 405.64 347.9 406.6 348.4 407.55 348.9 408.48 349.4 409.4 349.9 410.29 350.4 411.17 350.9 412.02 351.4 412.86 351.9 413.68 352.4 414.47 352.9 415.25 353.4 416 353.9 416.73 354.4 417.44 354.9 418.13 355.4 418.79 355.9 419.44 356.4 420.06 356.9 420.66 357.4 421.24 357.9 421.79 358.4 422.33 358.9 422.84 359.4 423.34 359.9 423.81 360.4 424.26 360.9 424.69 361.4 425.11 361.9 425.5 362.4 425.87 362.9 426.23 363.4 426.56 363.9 426.88 364.4 427.17 364.9 427.45 365.4 427.71 365.9 427.94 366.4 428.16 366.9 428.36 367.4 428.54 367.9 428.7 368.4 428.83 368.9 428.95 369.4 429.04 369.9 429.11 370.4 429.16 370.9 429.19 371.4 429.19 371.9 429.17 372.4 429.13 372.9 429.06 373.4 428.96 373.9 428.84 374.4 428.69 374.9 428.51 375.4 428.3 375.9 428.07 376.4 427.8 376.9 427.5 377.4 427.16 377.9 426.79 378.4 426.39 378.9 425.95 379.4 425.46 379.9 424.94 380.4 424.38 380.9 423.78 381.4 423.13 381.9 422.44 382.4 421.71 382.9 420.93 383.4 420.11 383.9 419.24 384.4 418.32 384.9 417.36 385.4 416.34 385.9 415.28 386.4 414.17 386.9 413.02 387.4 411.82 387.9 410.57 388.4 409.27 388.9 407.93 389.4 406.55 389.9 405.13 390.4 403.67 390.9 402.17 391.4 400.63 391.9 399.06 392.4 397.46 392.9 395.82 393.4 394.16 393.9 392.47 394.4 390.75 394.9 389.01 395.4 387.26 395.9 385.48 396.4 383.69 396.9 381.89 397.4 380.08 397.9 378.26 398.4 376.44 398.9 374.62 399.4 372.8 399.9 370.98 400.4 369.17 400.9 367.37 401.4 365.57 401.9 363.79 402.4 362.02 402.9 360.27 403.4 358.54 403.9 356.83 404.4 355.15 404.9 353.49 405.4 351.87 405.9 350.27 406.4 348.71 406.9 347.19 407.4 345.7 407.9 344.26 408.4 342.86 408.9 341.5 409.4 340.2 409.9 338.94 410.4 337.73 410.9 336.57 411.4 335.47 411.9 334.43 412.4 333.44 412.9 332.51 413.4 331.65 413.9 330.84 414.4 330.1 414.9 329.42 415.4 328.8 415.9 328.26 416.4 327.78 416.9 327.36 417.4 327.02 417.9 326.74 418.4 326.54 418.9 326.4 419.4 326.34 419.9 326.35 420.4 326.43 420.9 326.58 421.4 326.81 421.9 327.1 422.4 327.47 422.9 327.91 423.4 328.42 423.9 328.99 424.4 329.64 424.9 330.35 425.4 331.13 425.9 331.97 426.4 332.87 426.9 333.84 427.4 334.86 427.9 335.95 428.4 337.08 428.9 338.27 429.4 339.51 429.9 340.8 430.4 342.13 430.9 343.51 431.4 344.93 431.9 346.39 432.4 347.89 432.9 349.43 433.4 350.99 433.9 352.59 434.4 354.22 434.9 355.87 435.4 357.55 435.9 359.24 436.4 360.95 436.9 362.67 437.4 364.41 437.9 366.15 438.4 367.89 438.9 369.63 439.4 371.37 439.9 373.1 440.4 374.82 440.9 376.53 441.4 378.22 441.9 379.9 442.4 381.55 442.9 383.18 443.4 384.78 443.9 386.35 444.4 387.89 444.9 389.4 445.4 390.88 445.9 392.31 446.4 393.72 446.9 395.08 447.4 396.41 447.9 397.69 448.4 398.94 448.9 400.14 449.4 401.3 449.9 402.43 450.4 403.51 450.9 404.55 451.4 405.55 451.9 406.52 452.4 407.44 452.9 408.33 453.4 409.17 453.9 409.99 454.4 410.76 454.9 411.5 455.4 412.21 455.9 412.88 456.4 413.52 456.9 414.13 457.4 414.71 457.9 415.27 458.4 415.79 458.9 416.29 459.4 416.76 459.9 417.2 460.4 417.63 460.9 418.03 461.4 418.41 461.9 418.77 462.4 419.11 462.9 419.44 463.4 419.75 463.9 420.04 464.4 420.32 464.9 420.58 465.4 420.84 465.9 421.08 466.4 421.31 466.9 421.53 467.4 421.74 467.9 421.94 468.4 422.13 468.9 422.31 469.4 422.49 469.9 422.66 470.4 422.82 470.9 422.97 471.4 423.11 471.9 423.25 472.4 423.38 472.9 423.5 473.4 423.6 473.9 423.7 474.4 423.79 474.9 423.86 475.4 423.92 475.9 423.96 476.4 423.99 476.9 424 477.4 423.99 477.9 423.97 478.4 423.92 478.9 423.85 479.4 423.76 479.9 423.65 480.4 423.51 480.9 423.35 481.4 423.17 481.9 422.96 482.4 422.73 482.9 422.48 483.4 422.21 483.9 421.92 484.4 421.62 484.9 421.3 485.4 420.98 485.9 420.64 486.4 420.31 486.9 419.97 487.4 419.64 487.9 419.32 488.1 419.2" stroke="#7c7c7c" stroke-width="1.1" fill="none"/>
<path d="M443.1 249.9V270.6H488.1" stroke="#8a8a8a" stroke-width="0.8" fill="none"/>
<rect x="443.5" y="250.4" width="44.1" height="19.8" fill="#fff"/>
<path d="M444.3 255.98h14" stroke="#7c7c7c" stroke-width="0.85" />
<path d="M444.3 265.82h14" stroke="#bb8484" stroke-width="0.85" />
<text x="460" y="258.68" class="lg" textLength="17.75" lengthAdjust="spacingAndGlyphs">Cured</text>
<text x="460" y="268.52" class="lg" textLength="26.9" lengthAdjust="spacingAndGlyphs">Un-cured</text>
<rect x="274.4" y="249.9" width="213.7" height="205.1" fill="none" stroke="#383838" stroke-width="1.4"/>
<text x="381.3" y="477" text-anchor="middle" class="at" textLength="56.8" lengthAdjust="spacingAndGlyphs">Wavenumber(cm-1)</text>
<path d="M302.7 265.2H381.2M295.5 371.3H381" stroke="#111" stroke-width="1.75"/>
<path d="M356.7 270.2V366.3" stroke="#111" stroke-width="1.6"/>
<path d="M356.7 265.8l-2.6 5.6h5.2z M356.7 370.7l-2.6 -5.6h5.2z" fill="#111"/>
<text x="280.25" y="272.1" class="pl" textLength="14.25" lengthAdjust="spacingAndGlyphs">(e)</text>

<text x="49.3" y="185.4" class="an" textLength="45.5" lengthAdjust="spacingAndGlyphs">aliphatic</text>
<text x="49.6" y="204.1" class="an" textLength="48.4" lengthAdjust="spacingAndGlyphs">1640/cm</text>
<text x="144.8" y="183.6" class="an" textLength="48" lengthAdjust="spacingAndGlyphs">aromatic</text>
<text x="145.4" y="202.2" class="an" textLength="48.5" lengthAdjust="spacingAndGlyphs">1611/cm</text>

</svg>
</body></html>
